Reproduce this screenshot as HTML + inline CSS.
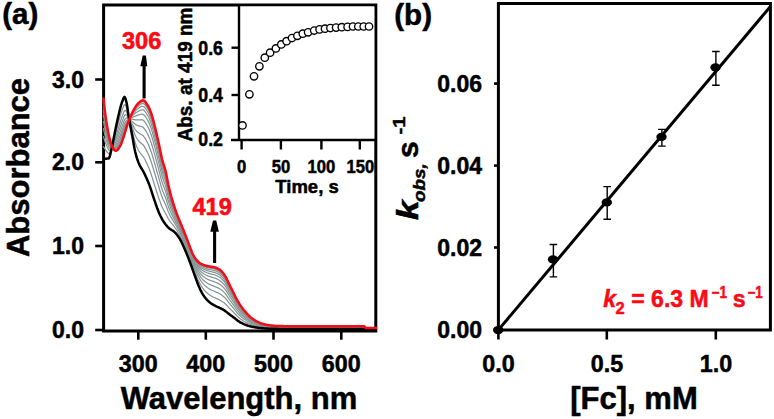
<!DOCTYPE html><html><head><meta charset="utf-8"><style>html,body{margin:0;padding:0;background:#fff}svg{display:block}text{font-family:"Liberation Sans",sans-serif;font-weight:bold;stroke-linejoin:round}</style></head><body>
<svg width="774" height="419" viewBox="0 0 774 419">
<rect width="774" height="419" fill="#fff"/>
<g stroke="#000" stroke-width="3" fill="none">
<path d="M103.6,332.5 V5.0 H375.8 V331.0 H102.1"/>
</g><g stroke="#000" stroke-width="2.6" fill="none">
<path d="M95.2,79.5 H103.6"/>
<path d="M95.2,162.3 H103.6"/>
<path d="M95.2,246 H103.6"/>
<path d="M95.2,330 H103.6"/>
<path d="M138.3,331.0 V339.7"/>
<path d="M205.8,331.0 V339.7"/>
<path d="M273.5,331.0 V339.7"/>
<path d="M341.3,331.0 V339.7"/>
</g>
<g fill="none" stroke-linejoin="round">
<path d="M103.4,146.2 L104.0,147.4 L104.6,148.4 L105.2,149.4 L105.8,150.4 L106.4,151.1 L107.0,151.9 L107.6,152.5 L108.2,153.1 L108.8,153.7 L109.4,153.5 L110.0,152.4 L110.6,150.8 L111.2,149.2 L111.8,147.5 L112.4,145.5 L113.0,143.3 L113.6,140.9 L114.2,138.6 L114.8,136.3 L115.4,134.1 L116.0,131.8 L116.6,129.5 L117.2,127.2 L117.8,124.9 L118.4,122.7 L119.0,120.5 L119.6,118.3 L120.2,116.2 L120.8,114.1 L121.4,112.1 L122.0,110.4 L122.6,108.7 L123.2,107.1 L123.8,105.7 L124.4,104.8 L125.0,104.6 L125.6,105.4 L126.2,106.8 L126.8,108.5 L127.4,111.1 L128.0,114.2 L128.6,117.1 L129.2,119.6 L129.8,121.9 L130.4,124.2 L131.0,126.4 L131.6,128.7 L132.2,130.9 L132.8,133.3 L133.4,135.8 L134.0,138.2 L134.6,140.5 L135.2,142.6 L135.8,144.3 L136.4,145.8 L137.0,147.2 L137.6,148.5 L138.2,149.7 L138.8,150.8 L139.4,151.7 L140.0,152.6 L140.6,153.4 L141.2,154.1 L141.8,154.8 L142.4,155.6 L143.0,156.3 L143.6,157.2 L144.2,158.3 L144.8,159.3 L145.4,160.5 L146.0,161.7 L146.6,162.9 L147.2,164.2 L147.8,165.5 L148.4,166.9 L149.0,168.3 L149.6,169.9 L150.2,171.5 L150.8,173.3 L151.4,175.1 L152.0,176.9 L152.6,178.8 L153.2,180.8 L153.8,182.7 L154.4,184.6 L155.0,186.5 L155.6,188.4 L156.2,190.3 L156.8,192.2 L157.4,194.1 L158.0,195.9 L158.6,197.6 L159.2,199.3 L159.8,200.9 L160.4,202.6 L161.0,204.2 L161.6,205.7 L162.2,207.1 L162.8,208.3 L163.4,209.5 L164.0,210.6 L164.6,211.6 L165.2,212.7 L165.8,213.8 L166.4,215.0 L167.0,216.2 L167.6,217.4 L168.2,218.5 L168.8,219.5 L169.4,220.5 L170.0,221.3 L170.6,222.1 L171.2,222.9 L171.8,223.6 L172.4,224.3 L173.0,225.0 L173.6,225.7 L174.2,226.5 L174.8,227.4 L175.4,228.2 L176.0,229.1 L176.6,230.0 L177.2,230.9 L177.8,231.9 L178.4,232.8 L179.0,233.8 L179.6,234.9 L180.2,236.0 L180.8,237.2 L181.4,238.4 L182.0,239.7 L182.6,241.0 L183.2,242.4 L183.8,243.8 L184.4,245.1 L185.0,246.5 L185.6,247.9 L186.2,249.4 L186.8,250.9 L187.4,252.4 L188.0,254.0 L188.6,255.5 L189.2,257.1 L189.8,258.6 L190.4,260.2 L191.0,261.9 L191.6,263.5 L192.2,265.2 L192.8,266.8 L193.4,268.4 L194.0,269.9 L194.6,271.4 L195.2,272.9 L195.8,274.4 L196.4,275.8 L197.0,277.3 L197.6,278.7 L198.2,280.0 L198.8,281.2 L199.4,282.4 L200.0,283.6 L200.6,284.7 L201.2,285.8 L201.8,286.7 L202.4,287.6 L203.0,288.5 L203.6,289.2 L204.2,290.0 L204.8,290.7 L205.4,291.3 L206.0,292.0 L206.6,292.5 L207.2,293.1 L207.8,293.6 L208.4,294.1 L209.0,294.5 L209.6,294.9 L210.2,295.3 L210.8,295.7 L211.4,296.0 L212.0,296.3 L212.6,296.7 L213.2,297.0 L213.8,297.3 L214.4,297.5 L215.0,297.8 L215.6,298.1 L216.2,298.4 L216.8,298.6 L217.4,298.9 L218.0,299.2 L218.6,299.5 L219.2,299.8 L219.8,300.1 L220.4,300.4 L221.0,300.8 L221.6,301.1 L222.2,301.5 L222.8,301.9 L223.4,302.3 L224.0,302.7 L224.6,303.2 L225.2,303.8 L225.8,304.3 L226.4,305.0 L227.0,305.6 L227.6,306.3 L228.2,306.9 L228.8,307.6 L229.4,308.2 L230.0,308.8 L230.6,309.4 L231.2,310.0 L231.8,310.6 L232.4,311.1 L233.0,311.7 L233.6,312.3 L234.2,313.0 L234.8,313.6 L235.4,314.2 L236.0,314.8 L236.6,315.5 L237.2,316.1 L237.8,316.6 L238.4,317.2 L239.0,317.7 L239.6,318.2 L240.2,318.7 L240.8,319.2 L241.4,319.6 L242.0,320.0 L242.6,320.4 L243.2,320.8 L243.8,321.2 L244.4,321.5 L245.0,321.9 L245.6,322.2 L246.2,322.5 L246.8,322.8 L247.4,323.1 L248.0,323.4 L248.6,323.7 L249.2,324.0 L249.8,324.2 L250.4,324.4 L251.0,324.7 L251.6,324.9 L252.2,325.1 L252.8,325.3 L253.4,325.4 L254.0,325.6 L254.6,325.8 L255.2,325.9 L255.8,326.1 L256.4,326.2 L257.0,326.4 L257.6,326.5 L258.2,326.6 L258.8,326.7 L259.4,326.9 L260.0,327.0 L260.6,327.1 L261.2,327.2 L261.8,327.2 L262.4,327.3 L263.0,327.4 L263.6,327.5 L264.2,327.6 L264.8,327.6 L265.4,327.7 L266.0,327.7 L266.6,327.8 L267.2,327.8 L267.8,327.9 L268.4,327.9 L269.0,328.0 L269.6,328.0 L270.2,328.0 L270.8,328.0 L271.4,328.1 L272.0,328.1 L272.6,328.1 L273.2,328.1 L273.8,328.1 L274.4,328.2 L275.0,328.2 L275.6,328.2 L276.2,328.2 L276.8,328.2 L277.4,328.2 L278.0,328.3 L278.6,328.3 L279.2,328.3 L279.8,328.3 L280.4,328.3 L281.0,328.3 L281.6,328.3 L282.2,328.3 L282.8,328.3 L283.4,328.3 L284.0,328.4 L284.6,328.4 L285.2,328.4 L285.8,328.4 L286.4,328.4 L287.0,328.4 L287.6,328.4 L288.2,328.4 L288.8,328.4 L289.4,328.4 L290.0,328.4 L290.6,328.4 L291.2,328.4 L291.8,328.4 L292.4,328.4 L293.0,328.4 L293.6,328.4 L294.2,328.4 L294.8,328.4 L295.4,328.4 L296.0,328.4 L296.6,328.4 L297.2,328.4 L297.8,328.4 L298.4,328.4 L299.0,328.4 L299.6,328.4 L300.2,328.4 L300.8,328.4 L301.4,328.4 L302.0,328.4 L302.6,328.4 L303.2,328.4 L303.8,328.4 L304.4,328.4 L305.0,328.4 L305.6,328.4 L306.2,328.4 L306.8,328.4 L307.4,328.4 L308.0,328.4 L308.6,328.4 L309.2,328.4 L309.8,328.4 L310.4,328.4 L311.0,328.4 L311.6,328.4 L312.2,328.4 L312.8,328.4 L313.4,328.4 L314.0,328.4 L314.6,328.4 L315.2,328.4 L315.8,328.4 L316.4,328.4 L317.0,328.4 L317.6,328.4 L318.2,328.4 L318.8,328.4 L319.4,328.4 L320.0,328.4 L320.6,328.4 L321.2,328.4 L321.8,328.4 L322.4,328.4 L323.0,328.4 L323.6,328.4 L324.2,328.4 L324.8,328.4 L325.4,328.4 L326.0,328.4 L326.6,328.4 L327.2,328.4 L327.8,328.4 L328.4,328.4 L329.0,328.4 L329.6,328.4 L330.2,328.4 L330.8,328.4 L331.4,328.4 L332.0,328.4 L332.6,328.4 L333.2,328.4 L333.8,328.4 L334.4,328.4 L335.0,328.4 L335.6,328.4 L336.2,328.4 L336.8,328.4 L337.4,328.4 L338.0,328.4 L338.6,328.4 L339.2,328.4 L339.8,328.4 L340.4,328.4 L341.0,328.4 L341.6,328.4 L342.2,328.4 L342.8,328.4 L343.4,328.4 L344.0,328.4 L344.6,328.4 L345.2,328.4 L345.8,328.4 L346.4,328.4 L347.0,328.4 L347.6,328.4 L348.2,328.4 L348.8,328.4 L349.4,328.4 L350.0,328.4 L350.6,328.4 L351.2,328.4 L351.8,328.4 L352.4,328.4 L353.0,328.4 L353.6,328.4 L354.2,328.4 L354.8,328.4 L355.4,328.4 L356.0,328.4 L356.6,328.4 L357.2,328.4 L357.8,328.4 L358.4,328.4 L359.0,328.4 L359.6,328.4 L360.2,328.4 L360.8,328.4 L361.4,328.4 L362.0,328.4 L362.6,328.4 L363.2,328.4 L363.8,328.4 L364.4,328.5 L365.0,328.6 L365.6,328.8 L366.2,328.8 L366.8,328.8 L367.4,328.8 L368.0,328.8 L368.6,328.8 L369.2,328.8 L369.8,328.8 L370.4,328.8 L371.0,328.8 L371.6,328.8 L372.2,328.8 L372.8,328.8 L373.4,328.8 L374.0,328.8 L374.6,328.8 L375.2,328.8 L375.8,328.8 L376.4,328.8 L377.0,328.8" stroke="#869494" stroke-width="1.25"/>
<path d="M103.4,136.2 L104.0,138.3 L104.6,140.2 L105.2,142.1 L105.8,143.7 L106.4,145.2 L107.0,146.5 L107.6,147.8 L108.2,148.9 L108.8,149.9 L109.4,150.3 L110.0,149.9 L110.6,149.0 L111.2,148.1 L111.8,147.2 L112.4,145.9 L113.0,144.3 L113.6,142.6 L114.2,140.9 L114.8,139.2 L115.4,137.5 L116.0,135.7 L116.6,133.9 L117.2,131.9 L117.8,130.0 L118.4,128.1 L119.0,126.2 L119.6,124.2 L120.2,122.3 L120.8,120.4 L121.4,118.6 L122.0,116.8 L122.6,115.2 L123.2,113.5 L123.8,112.0 L124.4,110.9 L125.0,110.3 L125.6,110.6 L126.2,111.3 L126.8,112.2 L127.4,113.9 L128.0,116.0 L128.6,118.0 L129.2,119.6 L129.8,121.2 L130.4,122.7 L131.0,124.2 L131.6,125.6 L132.2,127.2 L132.8,128.8 L133.4,130.6 L134.0,132.3 L134.6,133.9 L135.2,135.3 L135.8,136.5 L136.4,137.5 L137.0,138.5 L137.6,139.4 L138.2,140.2 L138.8,140.9 L139.4,141.6 L140.0,142.2 L140.6,142.7 L141.2,143.2 L141.8,143.7 L142.4,144.2 L143.0,144.8 L143.6,145.5 L144.2,146.4 L144.8,147.4 L145.4,148.4 L146.0,149.5 L146.6,150.7 L147.2,151.9 L147.8,153.1 L148.4,154.4 L149.0,155.8 L149.6,157.3 L150.2,159.0 L150.8,160.7 L151.4,162.5 L152.0,164.3 L152.6,166.3 L153.2,168.3 L153.8,170.3 L154.4,172.2 L155.0,174.2 L155.6,176.3 L156.2,178.3 L156.8,180.4 L157.4,182.4 L158.0,184.4 L158.6,186.3 L159.2,188.2 L159.8,190.2 L160.4,192.1 L161.0,193.9 L161.6,195.7 L162.2,197.3 L162.8,198.8 L163.4,200.1 L164.0,201.3 L164.6,202.6 L165.2,203.8 L165.8,205.2 L166.4,206.7 L167.0,208.3 L167.6,210.0 L168.2,211.5 L168.8,212.8 L169.4,214.1 L170.0,215.3 L170.6,216.4 L171.2,217.4 L171.8,218.4 L172.4,219.4 L173.0,220.4 L173.6,221.4 L174.2,222.4 L174.8,223.4 L175.4,224.4 L176.0,225.5 L176.6,226.5 L177.2,227.6 L177.8,228.7 L178.4,229.8 L179.0,230.9 L179.6,232.0 L180.2,233.1 L180.8,234.4 L181.4,235.7 L182.0,237.0 L182.6,238.4 L183.2,239.8 L183.8,241.1 L184.4,242.5 L185.0,243.9 L185.6,245.4 L186.2,246.9 L186.8,248.4 L187.4,249.9 L188.0,251.5 L188.6,253.0 L189.2,254.6 L189.8,256.2 L190.4,257.8 L191.0,259.4 L191.6,261.0 L192.2,262.6 L192.8,264.2 L193.4,265.7 L194.0,267.1 L194.6,268.5 L195.2,269.9 L195.8,271.2 L196.4,272.5 L197.0,273.8 L197.6,275.0 L198.2,276.2 L198.8,277.3 L199.4,278.4 L200.0,279.4 L200.6,280.3 L201.2,281.3 L201.8,282.1 L202.4,282.9 L203.0,283.6 L203.6,284.2 L204.2,284.9 L204.8,285.5 L205.4,286.0 L206.0,286.5 L206.6,287.0 L207.2,287.5 L207.8,287.9 L208.4,288.3 L209.0,288.7 L209.6,289.0 L210.2,289.4 L210.8,289.7 L211.4,290.0 L212.0,290.3 L212.6,290.5 L213.2,290.8 L213.8,291.0 L214.4,291.3 L215.0,291.6 L215.6,291.8 L216.2,292.1 L216.8,292.3 L217.4,292.6 L218.0,292.9 L218.6,293.2 L219.2,293.5 L219.8,293.9 L220.4,294.2 L221.0,294.6 L221.6,295.0 L222.2,295.4 L222.8,295.9 L223.4,296.4 L224.0,296.9 L224.6,297.5 L225.2,298.1 L225.8,298.7 L226.4,299.5 L227.0,300.2 L227.6,301.0 L228.2,301.8 L228.8,302.6 L229.4,303.3 L230.0,304.0 L230.6,304.8 L231.2,305.5 L231.8,306.2 L232.4,306.9 L233.0,307.6 L233.6,308.3 L234.2,309.1 L234.8,309.8 L235.4,310.6 L236.0,311.3 L236.6,312.1 L237.2,312.8 L237.8,313.5 L238.4,314.1 L239.0,314.7 L239.6,315.3 L240.2,315.9 L240.8,316.4 L241.4,317.0 L242.0,317.5 L242.6,318.0 L243.2,318.4 L243.8,318.9 L244.4,319.3 L245.0,319.7 L245.6,320.1 L246.2,320.5 L246.8,320.9 L247.4,321.3 L248.0,321.6 L248.6,322.0 L249.2,322.3 L249.8,322.6 L250.4,322.9 L251.0,323.2 L251.6,323.5 L252.2,323.7 L252.8,324.0 L253.4,324.2 L254.0,324.4 L254.6,324.6 L255.2,324.8 L255.8,325.0 L256.4,325.2 L257.0,325.4 L257.6,325.5 L258.2,325.7 L258.8,325.9 L259.4,326.0 L260.0,326.1 L260.6,326.3 L261.2,326.4 L261.8,326.5 L262.4,326.6 L263.0,326.7 L263.6,326.8 L264.2,326.9 L264.8,327.0 L265.4,327.0 L266.0,327.1 L266.6,327.2 L267.2,327.2 L267.8,327.3 L268.4,327.4 L269.0,327.4 L269.6,327.4 L270.2,327.5 L270.8,327.5 L271.4,327.5 L272.0,327.6 L272.6,327.6 L273.2,327.6 L273.8,327.6 L274.4,327.7 L275.0,327.7 L275.6,327.7 L276.2,327.7 L276.8,327.8 L277.4,327.8 L278.0,327.8 L278.6,327.8 L279.2,327.8 L279.8,327.8 L280.4,327.9 L281.0,327.9 L281.6,327.9 L282.2,327.9 L282.8,327.9 L283.4,327.9 L284.0,327.9 L284.6,327.9 L285.2,327.9 L285.8,327.9 L286.4,327.9 L287.0,327.9 L287.6,327.9 L288.2,327.9 L288.8,328.0 L289.4,328.0 L290.0,328.0 L290.6,328.0 L291.2,328.0 L291.8,328.0 L292.4,328.0 L293.0,328.0 L293.6,328.0 L294.2,328.0 L294.8,328.0 L295.4,328.0 L296.0,328.0 L296.6,328.0 L297.2,328.0 L297.8,328.0 L298.4,328.0 L299.0,328.0 L299.6,328.0 L300.2,328.0 L300.8,328.0 L301.4,328.0 L302.0,328.0 L302.6,328.0 L303.2,328.0 L303.8,328.0 L304.4,328.0 L305.0,328.0 L305.6,328.0 L306.2,328.0 L306.8,328.0 L307.4,328.0 L308.0,328.0 L308.6,328.0 L309.2,328.0 L309.8,328.0 L310.4,328.0 L311.0,328.0 L311.6,328.0 L312.2,328.0 L312.8,328.0 L313.4,328.0 L314.0,328.0 L314.6,328.0 L315.2,328.0 L315.8,328.0 L316.4,328.0 L317.0,328.0 L317.6,328.0 L318.2,328.0 L318.8,328.0 L319.4,328.0 L320.0,328.0 L320.6,328.0 L321.2,328.0 L321.8,328.0 L322.4,328.0 L323.0,328.0 L323.6,328.0 L324.2,328.0 L324.8,328.0 L325.4,328.0 L326.0,328.0 L326.6,328.0 L327.2,328.0 L327.8,328.0 L328.4,328.0 L329.0,328.0 L329.6,328.0 L330.2,328.0 L330.8,328.0 L331.4,328.0 L332.0,328.0 L332.6,328.0 L333.2,328.0 L333.8,328.0 L334.4,328.0 L335.0,328.0 L335.6,328.0 L336.2,328.0 L336.8,328.0 L337.4,328.0 L338.0,328.0 L338.6,328.0 L339.2,328.0 L339.8,328.0 L340.4,328.0 L341.0,328.0 L341.6,328.0 L342.2,328.0 L342.8,328.0 L343.4,328.0 L344.0,328.0 L344.6,328.0 L345.2,328.0 L345.8,328.0 L346.4,328.0 L347.0,328.0 L347.6,328.0 L348.2,328.0 L348.8,328.0 L349.4,328.0 L350.0,328.0 L350.6,328.0 L351.2,328.0 L351.8,328.0 L352.4,328.0 L353.0,328.0 L353.6,328.0 L354.2,328.0 L354.8,328.0 L355.4,328.0 L356.0,328.0 L356.6,328.0 L357.2,328.0 L357.8,328.0 L358.4,328.0 L359.0,328.0 L359.6,328.0 L360.2,328.0 L360.8,328.0 L361.4,328.0 L362.0,328.0 L362.6,328.0 L363.2,328.0 L363.8,328.0 L364.4,328.1 L365.0,328.3 L365.6,328.6 L366.2,328.6 L366.8,328.6 L367.4,328.6 L368.0,328.6 L368.6,328.6 L369.2,328.6 L369.8,328.6 L370.4,328.6 L371.0,328.6 L371.6,328.6 L372.2,328.6 L372.8,328.6 L373.4,328.6 L374.0,328.6 L374.6,328.6 L375.2,328.6 L375.8,328.6 L376.4,328.6 L377.0,328.6" stroke="#869494" stroke-width="1.25"/>
<path d="M103.4,128.2 L104.0,131.1 L104.6,133.7 L105.2,136.2 L105.8,138.4 L106.4,140.4 L107.0,142.2 L107.6,144.0 L108.2,145.5 L108.8,146.9 L109.4,147.8 L110.0,147.9 L110.6,147.6 L111.2,147.3 L111.8,146.9 L112.4,146.1 L113.0,145.1 L113.6,143.9 L114.2,142.7 L114.8,141.5 L115.4,140.3 L116.0,138.8 L116.6,137.3 L117.2,135.7 L117.8,134.0 L118.4,132.3 L119.0,130.6 L119.6,128.9 L120.2,127.2 L120.8,125.4 L121.4,123.7 L122.0,121.9 L122.6,120.3 L123.2,118.6 L123.8,117.0 L124.4,115.7 L125.0,114.9 L125.6,114.7 L126.2,114.8 L126.8,115.1 L127.4,116.1 L128.0,117.5 L128.6,118.7 L129.2,119.6 L129.8,120.6 L130.4,121.5 L131.0,122.3 L131.6,123.3 L132.2,124.2 L132.8,125.3 L133.4,126.4 L134.0,127.5 L134.6,128.6 L135.2,129.5 L135.8,130.3 L136.4,130.9 L137.0,131.5 L137.6,132.1 L138.2,132.6 L138.8,133.1 L139.4,133.5 L140.0,133.8 L140.6,134.2 L141.2,134.5 L141.8,134.8 L142.4,135.2 L143.0,135.6 L143.6,136.2 L144.2,137.0 L144.8,137.9 L145.4,138.9 L146.0,139.9 L146.6,141.0 L147.2,142.1 L147.8,143.3 L148.4,144.5 L149.0,145.9 L149.6,147.4 L150.2,149.0 L150.8,150.7 L151.4,152.4 L152.0,154.3 L152.6,156.3 L153.2,158.3 L153.8,160.4 L154.4,162.5 L155.0,164.5 L155.6,166.7 L156.2,168.8 L156.8,171.0 L157.4,173.1 L158.0,175.2 L158.6,177.3 L159.2,179.4 L159.8,181.6 L160.4,183.7 L161.0,185.8 L161.6,187.8 L162.2,189.6 L162.8,191.2 L163.4,192.6 L164.0,194.0 L164.6,195.4 L165.2,196.8 L165.8,198.3 L166.4,200.1 L167.0,202.1 L167.6,204.1 L168.2,205.9 L168.8,207.5 L169.4,209.0 L170.0,210.5 L170.6,211.8 L171.2,213.1 L171.8,214.4 L172.4,215.6 L173.0,216.7 L173.6,217.9 L174.2,219.1 L174.8,220.3 L175.4,221.4 L176.0,222.6 L176.6,223.8 L177.2,225.0 L177.8,226.2 L178.4,227.3 L179.0,228.5 L179.6,229.7 L180.2,230.9 L180.8,232.2 L181.4,233.5 L182.0,234.9 L182.6,236.3 L183.2,237.7 L183.8,239.1 L184.4,240.5 L185.0,241.9 L185.6,243.3 L186.2,244.8 L186.8,246.4 L187.4,247.9 L188.0,249.5 L188.6,251.1 L189.2,252.7 L189.8,254.2 L190.4,255.8 L191.0,257.4 L191.6,259.0 L192.2,260.6 L192.8,262.1 L193.4,263.6 L194.0,264.9 L194.6,266.2 L195.2,267.5 L195.8,268.7 L196.4,269.9 L197.0,271.1 L197.6,272.2 L198.2,273.2 L198.8,274.2 L199.4,275.1 L200.0,276.0 L200.6,276.9 L201.2,277.7 L201.8,278.4 L202.4,279.1 L203.0,279.7 L203.6,280.3 L204.2,280.8 L204.8,281.3 L205.4,281.8 L206.0,282.3 L206.6,282.7 L207.2,283.1 L207.8,283.4 L208.4,283.8 L209.0,284.1 L209.6,284.4 L210.2,284.7 L210.8,284.9 L211.4,285.2 L212.0,285.4 L212.6,285.7 L213.2,285.9 L213.8,286.1 L214.4,286.3 L215.0,286.6 L215.6,286.8 L216.2,287.1 L216.8,287.3 L217.4,287.6 L218.0,287.9 L218.6,288.2 L219.2,288.6 L219.8,288.9 L220.4,289.3 L221.0,289.7 L221.6,290.1 L222.2,290.6 L222.8,291.1 L223.4,291.7 L224.0,292.2 L224.6,292.9 L225.2,293.5 L225.8,294.3 L226.4,295.1 L227.0,296.0 L227.6,296.9 L228.2,297.8 L228.8,298.6 L229.4,299.5 L230.0,300.3 L230.6,301.1 L231.2,301.9 L231.8,302.7 L232.4,303.5 L233.0,304.3 L233.6,305.2 L234.2,306.0 L234.8,306.9 L235.4,307.7 L236.0,308.6 L236.6,309.4 L237.2,310.2 L237.8,310.9 L238.4,311.7 L239.0,312.4 L239.6,313.0 L240.2,313.7 L240.8,314.3 L241.4,314.9 L242.0,315.4 L242.6,316.0 L243.2,316.5 L243.8,317.0 L244.4,317.5 L245.0,318.0 L245.6,318.5 L246.2,318.9 L246.8,319.4 L247.4,319.8 L248.0,320.2 L248.6,320.6 L249.2,321.0 L249.8,321.4 L250.4,321.7 L251.0,322.0 L251.6,322.4 L252.2,322.6 L252.8,322.9 L253.4,323.2 L254.0,323.4 L254.6,323.7 L255.2,323.9 L255.8,324.2 L256.4,324.4 L257.0,324.6 L257.6,324.8 L258.2,325.0 L258.8,325.2 L259.4,325.3 L260.0,325.5 L260.6,325.7 L261.2,325.8 L261.8,325.9 L262.4,326.0 L263.0,326.1 L263.6,326.3 L264.2,326.4 L264.8,326.4 L265.4,326.5 L266.0,326.6 L266.6,326.7 L267.2,326.8 L267.8,326.8 L268.4,326.9 L269.0,326.9 L269.6,327.0 L270.2,327.0 L270.8,327.1 L271.4,327.1 L272.0,327.1 L272.6,327.2 L273.2,327.2 L273.8,327.3 L274.4,327.3 L275.0,327.3 L275.6,327.3 L276.2,327.4 L276.8,327.4 L277.4,327.4 L278.0,327.4 L278.6,327.5 L279.2,327.5 L279.8,327.5 L280.4,327.5 L281.0,327.5 L281.6,327.5 L282.2,327.5 L282.8,327.5 L283.4,327.5 L284.0,327.5 L284.6,327.6 L285.2,327.6 L285.8,327.6 L286.4,327.6 L287.0,327.6 L287.6,327.6 L288.2,327.6 L288.8,327.6 L289.4,327.6 L290.0,327.6 L290.6,327.6 L291.2,327.6 L291.8,327.6 L292.4,327.6 L293.0,327.6 L293.6,327.6 L294.2,327.6 L294.8,327.6 L295.4,327.6 L296.0,327.6 L296.6,327.6 L297.2,327.6 L297.8,327.6 L298.4,327.7 L299.0,327.7 L299.6,327.7 L300.2,327.7 L300.8,327.7 L301.4,327.7 L302.0,327.7 L302.6,327.7 L303.2,327.7 L303.8,327.7 L304.4,327.7 L305.0,327.7 L305.6,327.7 L306.2,327.7 L306.8,327.7 L307.4,327.7 L308.0,327.7 L308.6,327.7 L309.2,327.7 L309.8,327.7 L310.4,327.7 L311.0,327.7 L311.6,327.7 L312.2,327.7 L312.8,327.7 L313.4,327.7 L314.0,327.7 L314.6,327.7 L315.2,327.7 L315.8,327.7 L316.4,327.7 L317.0,327.7 L317.6,327.7 L318.2,327.7 L318.8,327.7 L319.4,327.7 L320.0,327.7 L320.6,327.7 L321.2,327.7 L321.8,327.7 L322.4,327.7 L323.0,327.7 L323.6,327.7 L324.2,327.7 L324.8,327.7 L325.4,327.7 L326.0,327.7 L326.6,327.7 L327.2,327.7 L327.8,327.7 L328.4,327.7 L329.0,327.7 L329.6,327.7 L330.2,327.7 L330.8,327.7 L331.4,327.7 L332.0,327.7 L332.6,327.7 L333.2,327.7 L333.8,327.7 L334.4,327.7 L335.0,327.7 L335.6,327.7 L336.2,327.7 L336.8,327.7 L337.4,327.7 L338.0,327.7 L338.6,327.7 L339.2,327.7 L339.8,327.7 L340.4,327.7 L341.0,327.7 L341.6,327.7 L342.2,327.7 L342.8,327.7 L343.4,327.7 L344.0,327.7 L344.6,327.7 L345.2,327.7 L345.8,327.7 L346.4,327.7 L347.0,327.7 L347.6,327.7 L348.2,327.7 L348.8,327.7 L349.4,327.7 L350.0,327.7 L350.6,327.7 L351.2,327.7 L351.8,327.7 L352.4,327.7 L353.0,327.7 L353.6,327.7 L354.2,327.7 L354.8,327.7 L355.4,327.7 L356.0,327.7 L356.6,327.7 L357.2,327.7 L357.8,327.7 L358.4,327.7 L359.0,327.7 L359.6,327.7 L360.2,327.7 L360.8,327.7 L361.4,327.7 L362.0,327.7 L362.6,327.7 L363.2,327.7 L363.8,327.7 L364.4,327.7 L365.0,328.1 L365.6,328.4 L366.2,328.5 L366.8,328.5 L367.4,328.5 L368.0,328.5 L368.6,328.5 L369.2,328.5 L369.8,328.5 L370.4,328.5 L371.0,328.5 L371.6,328.5 L372.2,328.5 L372.8,328.5 L373.4,328.5 L374.0,328.5 L374.6,328.5 L375.2,328.5 L375.8,328.5 L376.4,328.5 L377.0,328.5" stroke="#869494" stroke-width="1.25"/>
<path d="M103.4,121.0 L104.0,124.5 L104.6,127.8 L105.2,130.8 L105.8,133.6 L106.4,136.1 L107.0,138.4 L107.6,140.5 L108.2,142.5 L108.8,144.2 L109.4,145.4 L110.0,146.0 L110.6,146.4 L111.2,146.6 L111.8,146.6 L112.4,146.4 L113.0,145.8 L113.6,145.1 L114.2,144.4 L114.8,143.6 L115.4,142.7 L116.0,141.7 L116.6,140.4 L117.2,139.1 L117.8,137.7 L118.4,136.2 L119.0,134.7 L119.6,133.1 L120.2,131.6 L120.8,130.0 L121.4,128.3 L122.0,126.6 L122.6,124.9 L123.2,123.2 L123.8,121.6 L124.4,120.2 L125.0,119.1 L125.6,118.4 L126.2,118.0 L126.8,117.8 L127.4,118.1 L128.0,118.8 L128.6,119.3 L129.2,119.7 L129.8,120.0 L130.4,120.3 L131.0,120.7 L131.6,121.1 L132.2,121.5 L132.8,122.1 L133.4,122.7 L134.0,123.3 L134.6,123.8 L135.2,124.3 L135.8,124.6 L136.4,124.9 L137.0,125.2 L137.6,125.5 L138.2,125.7 L138.8,125.9 L139.4,126.1 L140.0,126.3 L140.6,126.4 L141.2,126.5 L141.8,126.7 L142.4,126.9 L143.0,127.3 L143.6,127.8 L144.2,128.5 L144.8,129.3 L145.4,130.2 L146.0,131.1 L146.6,132.2 L147.2,133.3 L147.8,134.4 L148.4,135.6 L149.0,136.9 L149.6,138.3 L150.2,139.9 L150.8,141.6 L151.4,143.3 L152.0,145.2 L152.6,147.2 L153.2,149.3 L153.8,151.4 L154.4,153.6 L155.0,155.7 L155.6,157.9 L156.2,160.1 L156.8,162.4 L157.4,164.7 L158.0,166.9 L158.6,169.2 L159.2,171.4 L159.8,173.8 L160.4,176.2 L161.0,178.5 L161.6,180.6 L162.2,182.5 L162.8,184.3 L163.4,185.8 L164.0,187.3 L164.6,188.8 L165.2,190.4 L165.8,192.1 L166.4,194.2 L167.0,196.4 L167.6,198.7 L168.2,200.8 L168.8,202.6 L169.4,204.4 L170.0,206.1 L170.6,207.7 L171.2,209.2 L171.8,210.6 L172.4,212.0 L173.0,213.4 L173.6,214.8 L174.2,216.1 L174.8,217.4 L175.4,218.7 L176.0,220.0 L176.6,221.3 L177.2,222.6 L177.8,223.9 L178.4,225.1 L179.0,226.3 L179.6,227.6 L180.2,228.9 L180.8,230.2 L181.4,231.5 L182.0,232.9 L182.6,234.3 L183.2,235.7 L183.8,237.2 L184.4,238.6 L185.0,240.0 L185.6,241.5 L186.2,243.0 L186.8,244.5 L187.4,246.1 L188.0,247.7 L188.6,249.3 L189.2,250.9 L189.8,252.4 L190.4,254.0 L191.0,255.6 L191.6,257.2 L192.2,258.8 L192.8,260.3 L193.4,261.6 L194.0,262.9 L194.6,264.1 L195.2,265.3 L195.8,266.5 L196.4,267.5 L197.0,268.6 L197.6,269.6 L198.2,270.5 L198.8,271.4 L199.4,272.2 L200.0,273.0 L200.6,273.8 L201.2,274.4 L201.8,275.1 L202.4,275.6 L203.0,276.2 L203.6,276.7 L204.2,277.1 L204.8,277.6 L205.4,278.0 L206.0,278.4 L206.6,278.7 L207.2,279.1 L207.8,279.4 L208.4,279.7 L209.0,279.9 L209.6,280.2 L210.2,280.4 L210.8,280.6 L211.4,280.8 L212.0,281.0 L212.6,281.2 L213.2,281.4 L213.8,281.6 L214.4,281.8 L215.0,282.1 L215.6,282.3 L216.2,282.5 L216.8,282.8 L217.4,283.1 L218.0,283.4 L218.6,283.7 L219.2,284.1 L219.8,284.4 L220.4,284.8 L221.0,285.2 L221.6,285.7 L222.2,286.2 L222.8,286.8 L223.4,287.4 L224.0,288.0 L224.6,288.7 L225.2,289.4 L225.8,290.2 L226.4,291.1 L227.0,292.1 L227.6,293.1 L228.2,294.1 L228.8,295.0 L229.4,296.0 L230.0,296.9 L230.6,297.8 L231.2,298.6 L231.8,299.5 L232.4,300.4 L233.0,301.3 L233.6,302.3 L234.2,303.2 L234.8,304.2 L235.4,305.1 L236.0,306.0 L236.6,306.9 L237.2,307.8 L237.8,308.6 L238.4,309.4 L239.0,310.2 L239.6,310.9 L240.2,311.6 L240.8,312.3 L241.4,313.0 L242.0,313.6 L242.6,314.2 L243.2,314.8 L243.8,315.4 L244.4,315.9 L245.0,316.5 L245.6,317.0 L246.2,317.5 L246.8,318.0 L247.4,318.5 L248.0,318.9 L248.6,319.4 L249.2,319.8 L249.8,320.2 L250.4,320.6 L251.0,321.0 L251.6,321.3 L252.2,321.7 L252.8,322.0 L253.4,322.3 L254.0,322.6 L254.6,322.9 L255.2,323.1 L255.8,323.4 L256.4,323.6 L257.0,323.9 L257.6,324.1 L258.2,324.3 L258.8,324.5 L259.4,324.7 L260.0,324.9 L260.6,325.1 L261.2,325.2 L261.8,325.4 L262.4,325.5 L263.0,325.6 L263.6,325.8 L264.2,325.9 L264.8,326.0 L265.4,326.1 L266.0,326.2 L266.6,326.3 L267.2,326.3 L267.8,326.4 L268.4,326.5 L269.0,326.5 L269.6,326.6 L270.2,326.6 L270.8,326.7 L271.4,326.7 L272.0,326.8 L272.6,326.8 L273.2,326.9 L273.8,326.9 L274.4,326.9 L275.0,327.0 L275.6,327.0 L276.2,327.0 L276.8,327.1 L277.4,327.1 L278.0,327.1 L278.6,327.1 L279.2,327.1 L279.8,327.2 L280.4,327.2 L281.0,327.2 L281.6,327.2 L282.2,327.2 L282.8,327.2 L283.4,327.2 L284.0,327.2 L284.6,327.2 L285.2,327.2 L285.8,327.2 L286.4,327.2 L287.0,327.3 L287.6,327.3 L288.2,327.3 L288.8,327.3 L289.4,327.3 L290.0,327.3 L290.6,327.3 L291.2,327.3 L291.8,327.3 L292.4,327.3 L293.0,327.3 L293.6,327.3 L294.2,327.3 L294.8,327.3 L295.4,327.3 L296.0,327.3 L296.6,327.3 L297.2,327.3 L297.8,327.3 L298.4,327.3 L299.0,327.3 L299.6,327.3 L300.2,327.3 L300.8,327.3 L301.4,327.3 L302.0,327.3 L302.6,327.3 L303.2,327.3 L303.8,327.3 L304.4,327.3 L305.0,327.3 L305.6,327.3 L306.2,327.3 L306.8,327.3 L307.4,327.3 L308.0,327.3 L308.6,327.3 L309.2,327.3 L309.8,327.3 L310.4,327.3 L311.0,327.3 L311.6,327.3 L312.2,327.3 L312.8,327.3 L313.4,327.3 L314.0,327.3 L314.6,327.3 L315.2,327.3 L315.8,327.3 L316.4,327.3 L317.0,327.3 L317.6,327.3 L318.2,327.3 L318.8,327.3 L319.4,327.3 L320.0,327.3 L320.6,327.3 L321.2,327.3 L321.8,327.3 L322.4,327.3 L323.0,327.3 L323.6,327.3 L324.2,327.3 L324.8,327.3 L325.4,327.3 L326.0,327.3 L326.6,327.3 L327.2,327.3 L327.8,327.3 L328.4,327.3 L329.0,327.3 L329.6,327.3 L330.2,327.3 L330.8,327.3 L331.4,327.3 L332.0,327.3 L332.6,327.3 L333.2,327.3 L333.8,327.3 L334.4,327.3 L335.0,327.3 L335.6,327.3 L336.2,327.3 L336.8,327.3 L337.4,327.3 L338.0,327.3 L338.6,327.3 L339.2,327.3 L339.8,327.3 L340.4,327.3 L341.0,327.3 L341.6,327.3 L342.2,327.3 L342.8,327.3 L343.4,327.3 L344.0,327.3 L344.6,327.3 L345.2,327.3 L345.8,327.3 L346.4,327.3 L347.0,327.3 L347.6,327.3 L348.2,327.3 L348.8,327.3 L349.4,327.3 L350.0,327.3 L350.6,327.3 L351.2,327.3 L351.8,327.3 L352.4,327.3 L353.0,327.3 L353.6,327.3 L354.2,327.3 L354.8,327.3 L355.4,327.3 L356.0,327.3 L356.6,327.3 L357.2,327.3 L357.8,327.3 L358.4,327.3 L359.0,327.3 L359.6,327.3 L360.2,327.3 L360.8,327.3 L361.4,327.3 L362.0,327.3 L362.6,327.3 L363.2,327.3 L363.8,327.3 L364.4,327.4 L365.0,327.9 L365.6,328.3 L366.2,328.4 L366.8,328.4 L367.4,328.4 L368.0,328.4 L368.6,328.4 L369.2,328.4 L369.8,328.4 L370.4,328.4 L371.0,328.4 L371.6,328.4 L372.2,328.4 L372.8,328.4 L373.4,328.4 L374.0,328.4 L374.6,328.4 L375.2,328.4 L375.8,328.4 L376.4,328.4 L377.0,328.4" stroke="#869494" stroke-width="1.25"/>
<path d="M103.4,114.8 L104.0,118.9 L104.6,122.7 L105.2,126.3 L105.8,129.5 L106.4,132.4 L107.0,135.0 L107.6,137.5 L108.2,139.8 L108.8,141.9 L109.4,143.5 L110.0,144.5 L110.6,145.3 L111.2,145.9 L111.8,146.4 L112.4,146.6 L113.0,146.5 L113.6,146.2 L114.2,145.8 L114.8,145.4 L115.4,144.8 L116.0,144.1 L116.6,143.1 L117.2,142.0 L117.8,140.8 L118.4,139.5 L119.0,138.2 L119.6,136.8 L120.2,135.4 L120.8,133.9 L121.4,132.3 L122.0,130.6 L122.6,128.9 L123.2,127.1 L123.8,125.5 L124.4,123.9 L125.0,122.6 L125.6,121.6 L126.2,120.8 L126.8,120.1 L127.4,119.9 L128.0,119.9 L128.6,119.9 L129.2,119.7 L129.8,119.5 L130.4,119.4 L131.0,119.3 L131.6,119.2 L132.2,119.2 L132.8,119.3 L133.4,119.4 L134.0,119.6 L134.6,119.7 L135.2,119.8 L135.8,119.8 L136.4,119.8 L137.0,119.8 L137.6,119.8 L138.2,119.9 L138.8,119.8 L139.4,119.8 L140.0,119.8 L140.6,119.8 L141.2,119.7 L141.8,119.8 L142.4,119.9 L143.0,120.1 L143.6,120.5 L144.2,121.1 L144.8,121.9 L145.4,122.7 L146.0,123.6 L146.6,124.6 L147.2,125.7 L147.8,126.7 L148.4,127.9 L149.0,129.2 L149.6,130.6 L150.2,132.2 L150.8,133.8 L151.4,135.5 L152.0,137.4 L152.6,139.4 L153.2,141.6 L153.8,143.7 L154.4,146.0 L155.0,148.2 L155.6,150.4 L156.2,152.7 L156.8,155.1 L157.4,157.4 L158.0,159.8 L158.6,162.2 L159.2,164.6 L159.8,167.1 L160.4,169.7 L161.0,172.1 L161.6,174.4 L162.2,176.5 L162.8,178.3 L163.4,180.0 L164.0,181.6 L164.6,183.2 L165.2,184.9 L165.8,186.8 L166.4,189.0 L167.0,191.6 L167.6,194.1 L168.2,196.4 L168.8,198.5 L169.4,200.5 L170.0,202.3 L170.6,204.1 L171.2,205.8 L171.8,207.4 L172.4,209.0 L173.0,210.5 L173.6,212.0 L174.2,213.5 L174.8,215.0 L175.4,216.4 L176.0,217.8 L176.6,219.2 L177.2,220.6 L177.8,221.9 L178.4,223.2 L179.0,224.5 L179.6,225.8 L180.2,227.1 L180.8,228.5 L181.4,229.8 L182.0,231.3 L182.6,232.7 L183.2,234.1 L183.8,235.5 L184.4,237.0 L185.0,238.4 L185.6,239.9 L186.2,241.4 L186.8,243.0 L187.4,244.6 L188.0,246.2 L188.6,247.8 L189.2,249.3 L189.8,250.9 L190.4,252.5 L191.0,254.1 L191.6,255.7 L192.2,257.2 L192.8,258.7 L193.4,260.0 L194.0,261.2 L194.6,262.4 L195.2,263.5 L195.8,264.5 L196.4,265.5 L197.0,266.4 L197.6,267.3 L198.2,268.2 L198.8,269.0 L199.4,269.7 L200.0,270.4 L200.6,271.1 L201.2,271.7 L201.8,272.2 L202.4,272.7 L203.0,273.1 L203.6,273.6 L204.2,274.0 L204.8,274.3 L205.4,274.7 L206.0,275.0 L206.6,275.3 L207.2,275.6 L207.8,275.9 L208.4,276.1 L209.0,276.3 L209.6,276.5 L210.2,276.7 L210.8,276.9 L211.4,277.1 L212.0,277.3 L212.6,277.4 L213.2,277.6 L213.8,277.8 L214.4,278.0 L215.0,278.2 L215.6,278.4 L216.2,278.6 L216.8,278.9 L217.4,279.2 L218.0,279.5 L218.6,279.8 L219.2,280.2 L219.8,280.6 L220.4,280.9 L221.0,281.4 L221.6,281.9 L222.2,282.5 L222.8,283.1 L223.4,283.7 L224.0,284.4 L224.6,285.1 L225.2,285.9 L225.8,286.7 L226.4,287.7 L227.0,288.7 L227.6,289.8 L228.2,290.9 L228.8,292.0 L229.4,292.9 L230.0,293.9 L230.6,294.9 L231.2,295.9 L231.8,296.8 L232.4,297.8 L233.0,298.8 L233.6,299.8 L234.2,300.8 L234.8,301.9 L235.4,302.9 L236.0,303.9 L236.6,304.9 L237.2,305.8 L237.8,306.7 L238.4,307.5 L239.0,308.3 L239.6,309.1 L240.2,309.9 L240.8,310.6 L241.4,311.3 L242.0,312.0 L242.6,312.7 L243.2,313.3 L243.8,314.0 L244.4,314.6 L245.0,315.1 L245.6,315.7 L246.2,316.2 L246.8,316.8 L247.4,317.3 L248.0,317.8 L248.6,318.3 L249.2,318.8 L249.8,319.2 L250.4,319.7 L251.0,320.1 L251.6,320.5 L252.2,320.8 L252.8,321.2 L253.4,321.5 L254.0,321.8 L254.6,322.1 L255.2,322.4 L255.8,322.7 L256.4,323.0 L257.0,323.2 L257.6,323.5 L258.2,323.7 L258.8,324.0 L259.4,324.2 L260.0,324.4 L260.6,324.6 L261.2,324.8 L261.8,324.9 L262.4,325.1 L263.0,325.2 L263.6,325.3 L264.2,325.5 L264.8,325.6 L265.4,325.7 L266.0,325.8 L266.6,325.9 L267.2,326.0 L267.8,326.0 L268.4,326.1 L269.0,326.2 L269.6,326.2 L270.2,326.3 L270.8,326.3 L271.4,326.4 L272.0,326.4 L272.6,326.5 L273.2,326.5 L273.8,326.6 L274.4,326.6 L275.0,326.7 L275.6,326.7 L276.2,326.7 L276.8,326.8 L277.4,326.8 L278.0,326.8 L278.6,326.8 L279.2,326.9 L279.8,326.9 L280.4,326.9 L281.0,326.9 L281.6,326.9 L282.2,326.9 L282.8,326.9 L283.4,326.9 L284.0,326.9 L284.6,326.9 L285.2,327.0 L285.8,327.0 L286.4,327.0 L287.0,327.0 L287.6,327.0 L288.2,327.0 L288.8,327.0 L289.4,327.0 L290.0,327.0 L290.6,327.0 L291.2,327.0 L291.8,327.0 L292.4,327.0 L293.0,327.0 L293.6,327.0 L294.2,327.0 L294.8,327.0 L295.4,327.0 L296.0,327.1 L296.6,327.1 L297.2,327.1 L297.8,327.1 L298.4,327.1 L299.0,327.1 L299.6,327.1 L300.2,327.1 L300.8,327.1 L301.4,327.1 L302.0,327.1 L302.6,327.1 L303.2,327.1 L303.8,327.1 L304.4,327.1 L305.0,327.1 L305.6,327.1 L306.2,327.1 L306.8,327.1 L307.4,327.1 L308.0,327.1 L308.6,327.1 L309.2,327.1 L309.8,327.1 L310.4,327.1 L311.0,327.1 L311.6,327.1 L312.2,327.1 L312.8,327.1 L313.4,327.1 L314.0,327.1 L314.6,327.1 L315.2,327.1 L315.8,327.1 L316.4,327.1 L317.0,327.1 L317.6,327.1 L318.2,327.1 L318.8,327.1 L319.4,327.1 L320.0,327.1 L320.6,327.1 L321.2,327.1 L321.8,327.1 L322.4,327.1 L323.0,327.1 L323.6,327.1 L324.2,327.1 L324.8,327.1 L325.4,327.1 L326.0,327.1 L326.6,327.1 L327.2,327.1 L327.8,327.1 L328.4,327.1 L329.0,327.1 L329.6,327.1 L330.2,327.1 L330.8,327.1 L331.4,327.1 L332.0,327.1 L332.6,327.1 L333.2,327.1 L333.8,327.1 L334.4,327.1 L335.0,327.1 L335.6,327.1 L336.2,327.1 L336.8,327.1 L337.4,327.1 L338.0,327.1 L338.6,327.1 L339.2,327.1 L339.8,327.1 L340.4,327.1 L341.0,327.1 L341.6,327.1 L342.2,327.1 L342.8,327.1 L343.4,327.1 L344.0,327.1 L344.6,327.1 L345.2,327.1 L345.8,327.1 L346.4,327.1 L347.0,327.1 L347.6,327.1 L348.2,327.1 L348.8,327.1 L349.4,327.1 L350.0,327.1 L350.6,327.1 L351.2,327.1 L351.8,327.1 L352.4,327.1 L353.0,327.1 L353.6,327.1 L354.2,327.1 L354.8,327.1 L355.4,327.1 L356.0,327.1 L356.6,327.1 L357.2,327.1 L357.8,327.1 L358.4,327.1 L359.0,327.1 L359.6,327.1 L360.2,327.1 L360.8,327.1 L361.4,327.1 L362.0,327.1 L362.6,327.1 L363.2,327.1 L363.8,327.1 L364.4,327.2 L365.0,327.7 L365.6,328.2 L366.2,328.3 L366.8,328.3 L367.4,328.3 L368.0,328.3 L368.6,328.3 L369.2,328.3 L369.8,328.3 L370.4,328.3 L371.0,328.3 L371.6,328.3 L372.2,328.3 L372.8,328.3 L373.4,328.3 L374.0,328.3 L374.6,328.3 L375.2,328.3 L375.8,328.3 L376.4,328.3 L377.0,328.3" stroke="#869494" stroke-width="1.25"/>
<path d="M103.4,109.8 L104.0,114.3 L104.6,118.6 L105.2,122.6 L105.8,126.2 L106.4,129.4 L107.0,132.3 L107.6,135.1 L108.2,137.7 L108.8,140.0 L109.4,141.8 L110.0,143.2 L110.6,144.4 L111.2,145.4 L111.8,146.2 L112.4,146.8 L113.0,147.0 L113.6,147.0 L114.2,147.0 L114.8,146.8 L115.4,146.6 L116.0,146.0 L116.6,145.3 L117.2,144.4 L117.8,143.3 L118.4,142.2 L119.0,141.0 L119.6,139.7 L120.2,138.5 L120.8,137.1 L121.4,135.5 L122.0,133.8 L122.6,132.1 L123.2,130.3 L123.8,128.6 L124.4,127.0 L125.0,125.5 L125.6,124.2 L126.2,123.0 L126.8,122.0 L127.4,121.3 L128.0,120.8 L128.6,120.3 L129.2,119.7 L129.8,119.2 L130.4,118.6 L131.0,118.1 L131.6,117.7 L132.2,117.3 L132.8,117.1 L133.4,116.8 L134.0,116.6 L134.6,116.4 L135.2,116.1 L135.8,115.9 L136.4,115.6 L137.0,115.4 L137.6,115.2 L138.2,115.1 L138.8,114.9 L139.4,114.7 L140.0,114.5 L140.6,114.4 L141.2,114.2 L141.8,114.2 L142.4,114.2 L143.0,114.3 L143.6,114.7 L144.2,115.2 L144.8,115.8 L145.4,116.6 L146.0,117.5 L146.6,118.5 L147.2,119.5 L147.8,120.5 L148.4,121.6 L149.0,122.9 L149.6,124.3 L150.2,125.8 L150.8,127.5 L151.4,129.2 L152.0,131.1 L152.6,133.1 L153.2,135.3 L153.8,137.5 L154.4,139.8 L155.0,142.0 L155.6,144.3 L156.2,146.7 L156.8,149.1 L157.4,151.6 L158.0,154.0 L158.6,156.5 L159.2,159.0 L159.8,161.7 L160.4,164.4 L161.0,167.0 L161.6,169.4 L162.2,171.6 L162.8,173.5 L163.4,175.3 L164.0,177.0 L164.6,178.6 L165.2,180.4 L165.8,182.5 L166.4,184.9 L167.0,187.6 L167.6,190.4 L168.2,192.9 L168.8,195.1 L169.4,197.2 L170.0,199.3 L170.6,201.2 L171.2,203.1 L171.8,204.9 L172.4,206.6 L173.0,208.2 L173.6,209.8 L174.2,211.4 L174.8,213.0 L175.4,214.5 L176.0,216.0 L176.6,217.5 L177.2,218.9 L177.8,220.3 L178.4,221.6 L179.0,223.0 L179.6,224.3 L180.2,225.7 L180.8,227.1 L181.4,228.5 L182.0,229.9 L182.6,231.3 L183.2,232.8 L183.8,234.2 L184.4,235.7 L185.0,237.1 L185.6,238.6 L186.2,240.1 L186.8,241.7 L187.4,243.3 L188.0,244.9 L188.6,246.5 L189.2,248.1 L189.8,249.7 L190.4,251.2 L191.0,252.9 L191.6,254.4 L192.2,256.0 L192.8,257.4 L193.4,258.6 L194.0,259.8 L194.6,260.9 L195.2,261.9 L195.8,262.9 L196.4,263.8 L197.0,264.7 L197.6,265.5 L198.2,266.3 L198.8,267.0 L199.4,267.7 L200.0,268.3 L200.6,268.9 L201.2,269.4 L201.8,269.9 L202.4,270.3 L203.0,270.7 L203.6,271.0 L204.2,271.4 L204.8,271.7 L205.4,272.0 L206.0,272.3 L206.6,272.5 L207.2,272.8 L207.8,273.0 L208.4,273.2 L209.0,273.4 L209.6,273.6 L210.2,273.8 L210.8,273.9 L211.4,274.1 L212.0,274.2 L212.6,274.4 L213.2,274.5 L213.8,274.7 L214.4,274.8 L215.0,275.0 L215.6,275.2 L216.2,275.5 L216.8,275.7 L217.4,276.0 L218.0,276.3 L218.6,276.7 L219.2,277.0 L219.8,277.4 L220.4,277.8 L221.0,278.3 L221.6,278.8 L222.2,279.4 L222.8,280.0 L223.4,280.7 L224.0,281.4 L224.6,282.2 L225.2,283.0 L225.8,283.9 L226.4,284.9 L227.0,286.0 L227.6,287.2 L228.2,288.3 L228.8,289.4 L229.4,290.5 L230.0,291.5 L230.6,292.6 L231.2,293.6 L231.8,294.6 L232.4,295.7 L233.0,296.7 L233.6,297.8 L234.2,298.9 L234.8,300.0 L235.4,301.1 L236.0,302.1 L236.6,303.2 L237.2,304.1 L237.8,305.1 L238.4,306.0 L239.0,306.8 L239.6,307.7 L240.2,308.5 L240.8,309.3 L241.4,310.0 L242.0,310.7 L242.6,311.4 L243.2,312.1 L243.8,312.8 L244.4,313.4 L245.0,314.1 L245.6,314.7 L246.2,315.2 L246.8,315.8 L247.4,316.4 L248.0,316.9 L248.6,317.4 L249.2,318.0 L249.8,318.4 L250.4,318.9 L251.0,319.4 L251.6,319.8 L252.2,320.2 L252.8,320.5 L253.4,320.9 L254.0,321.2 L254.6,321.6 L255.2,321.9 L255.8,322.2 L256.4,322.5 L257.0,322.7 L257.6,323.0 L258.2,323.3 L258.8,323.5 L259.4,323.8 L260.0,324.0 L260.6,324.2 L261.2,324.4 L261.8,324.6 L262.4,324.7 L263.0,324.9 L263.6,325.0 L264.2,325.1 L264.8,325.2 L265.4,325.4 L266.0,325.5 L266.6,325.6 L267.2,325.7 L267.8,325.8 L268.4,325.8 L269.0,325.9 L269.6,326.0 L270.2,326.0 L270.8,326.1 L271.4,326.1 L272.0,326.2 L272.6,326.2 L273.2,326.3 L273.8,326.3 L274.4,326.4 L275.0,326.4 L275.6,326.5 L276.2,326.5 L276.8,326.5 L277.4,326.6 L278.0,326.6 L278.6,326.6 L279.2,326.6 L279.8,326.6 L280.4,326.7 L281.0,326.7 L281.6,326.7 L282.2,326.7 L282.8,326.7 L283.4,326.7 L284.0,326.7 L284.6,326.7 L285.2,326.7 L285.8,326.7 L286.4,326.7 L287.0,326.8 L287.6,326.8 L288.2,326.8 L288.8,326.8 L289.4,326.8 L290.0,326.8 L290.6,326.8 L291.2,326.8 L291.8,326.8 L292.4,326.8 L293.0,326.8 L293.6,326.8 L294.2,326.8 L294.8,326.8 L295.4,326.8 L296.0,326.8 L296.6,326.8 L297.2,326.8 L297.8,326.8 L298.4,326.8 L299.0,326.8 L299.6,326.8 L300.2,326.8 L300.8,326.8 L301.4,326.8 L302.0,326.8 L302.6,326.8 L303.2,326.8 L303.8,326.8 L304.4,326.8 L305.0,326.8 L305.6,326.8 L306.2,326.8 L306.8,326.8 L307.4,326.8 L308.0,326.8 L308.6,326.8 L309.2,326.8 L309.8,326.8 L310.4,326.8 L311.0,326.8 L311.6,326.8 L312.2,326.8 L312.8,326.8 L313.4,326.8 L314.0,326.8 L314.6,326.8 L315.2,326.8 L315.8,326.8 L316.4,326.8 L317.0,326.8 L317.6,326.8 L318.2,326.8 L318.8,326.8 L319.4,326.8 L320.0,326.8 L320.6,326.8 L321.2,326.8 L321.8,326.8 L322.4,326.8 L323.0,326.8 L323.6,326.8 L324.2,326.8 L324.8,326.8 L325.4,326.8 L326.0,326.8 L326.6,326.8 L327.2,326.8 L327.8,326.8 L328.4,326.8 L329.0,326.8 L329.6,326.8 L330.2,326.8 L330.8,326.8 L331.4,326.8 L332.0,326.8 L332.6,326.8 L333.2,326.8 L333.8,326.8 L334.4,326.8 L335.0,326.8 L335.6,326.8 L336.2,326.8 L336.8,326.8 L337.4,326.8 L338.0,326.8 L338.6,326.8 L339.2,326.8 L339.8,326.8 L340.4,326.8 L341.0,326.8 L341.6,326.8 L342.2,326.8 L342.8,326.8 L343.4,326.8 L344.0,326.8 L344.6,326.8 L345.2,326.8 L345.8,326.8 L346.4,326.8 L347.0,326.8 L347.6,326.8 L348.2,326.8 L348.8,326.8 L349.4,326.8 L350.0,326.8 L350.6,326.8 L351.2,326.8 L351.8,326.8 L352.4,326.8 L353.0,326.8 L353.6,326.8 L354.2,326.8 L354.8,326.8 L355.4,326.8 L356.0,326.8 L356.6,326.8 L357.2,326.8 L357.8,326.8 L358.4,326.8 L359.0,326.8 L359.6,326.8 L360.2,326.8 L360.8,326.8 L361.4,326.8 L362.0,326.8 L362.6,326.8 L363.2,326.8 L363.8,326.8 L364.4,327.0 L365.0,327.5 L365.6,328.1 L366.2,328.2 L366.8,328.2 L367.4,328.2 L368.0,328.2 L368.6,328.2 L369.2,328.2 L369.8,328.2 L370.4,328.2 L371.0,328.2 L371.6,328.2 L372.2,328.2 L372.8,328.2 L373.4,328.2 L374.0,328.2 L374.6,328.2 L375.2,328.2 L375.8,328.2 L376.4,328.2 L377.0,328.2" stroke="#869494" stroke-width="1.25"/>
<path d="M103.4,105.9 L104.0,110.8 L104.6,115.4 L105.2,119.7 L105.8,123.6 L106.4,127.0 L107.0,130.3 L107.6,133.3 L108.2,136.0 L108.8,138.5 L109.4,140.6 L110.0,142.2 L110.6,143.7 L111.2,145.0 L111.8,146.1 L112.4,146.9 L113.0,147.4 L113.6,147.6 L114.2,147.9 L114.8,148.0 L115.4,147.9 L116.0,147.6 L116.6,147.0 L117.2,146.2 L117.8,145.3 L118.4,144.3 L119.0,143.2 L119.6,142.0 L120.2,140.8 L120.8,139.5 L121.4,138.0 L122.0,136.4 L122.6,134.6 L123.2,132.8 L123.8,131.1 L124.4,129.4 L125.0,127.7 L125.6,126.2 L126.2,124.8 L126.8,123.4 L127.4,122.4 L128.0,121.5 L128.6,120.6 L129.2,119.7 L129.8,118.9 L130.4,118.0 L131.0,117.2 L131.6,116.5 L132.2,115.9 L132.8,115.3 L133.4,114.8 L134.0,114.3 L134.6,113.8 L135.2,113.3 L135.8,112.8 L136.4,112.4 L137.0,112.0 L137.6,111.7 L138.2,111.4 L138.8,111.1 L139.4,110.8 L140.0,110.5 L140.6,110.2 L141.2,110.0 L141.8,109.8 L142.4,109.8 L143.0,109.9 L143.6,110.1 L144.2,110.6 L144.8,111.2 L145.4,112.0 L146.0,112.8 L146.6,113.8 L147.2,114.7 L147.8,115.7 L148.4,116.8 L149.0,118.0 L149.6,119.4 L150.2,121.0 L150.8,122.6 L151.4,124.3 L152.0,126.2 L152.6,128.2 L153.2,130.4 L153.8,132.7 L154.4,135.0 L155.0,137.3 L155.6,139.6 L156.2,142.1 L156.8,144.5 L157.4,147.0 L158.0,149.6 L158.6,152.1 L159.2,154.8 L159.8,157.5 L160.4,160.3 L161.0,163.0 L161.6,165.6 L162.2,167.8 L162.8,169.8 L163.4,171.6 L164.0,173.4 L164.6,175.1 L165.2,177.0 L165.8,179.1 L166.4,181.7 L167.0,184.5 L167.6,187.5 L168.2,190.1 L168.8,192.5 L169.4,194.8 L170.0,196.9 L170.6,199.0 L171.2,201.0 L171.8,202.9 L172.4,204.7 L173.0,206.4 L173.6,208.2 L174.2,209.8 L174.8,211.4 L175.4,213.0 L176.0,214.6 L176.6,216.1 L177.2,217.6 L177.8,219.0 L178.4,220.4 L179.0,221.8 L179.6,223.2 L180.2,224.6 L180.8,226.0 L181.4,227.4 L182.0,228.9 L182.6,230.3 L183.2,231.8 L183.8,233.2 L184.4,234.7 L185.0,236.1 L185.6,237.6 L186.2,239.2 L186.8,240.7 L187.4,242.3 L188.0,243.9 L188.6,245.6 L189.2,247.1 L189.8,248.7 L190.4,250.3 L191.0,251.9 L191.6,253.5 L192.2,255.0 L192.8,256.4 L193.4,257.6 L194.0,258.7 L194.6,259.8 L195.2,260.8 L195.8,261.7 L196.4,262.6 L197.0,263.4 L197.6,264.1 L198.2,264.8 L198.8,265.5 L199.4,266.1 L200.0,266.7 L200.6,267.2 L201.2,267.7 L201.8,268.1 L202.4,268.4 L203.0,268.8 L203.6,269.1 L204.2,269.4 L204.8,269.7 L205.4,269.9 L206.0,270.2 L206.6,270.4 L207.2,270.6 L207.8,270.8 L208.4,271.0 L209.0,271.2 L209.6,271.3 L210.2,271.5 L210.8,271.6 L211.4,271.7 L212.0,271.8 L212.6,272.0 L213.2,272.1 L213.8,272.3 L214.4,272.4 L215.0,272.6 L215.6,272.8 L216.2,273.0 L216.8,273.3 L217.4,273.6 L218.0,273.9 L218.6,274.2 L219.2,274.6 L219.8,275.0 L220.4,275.4 L221.0,275.9 L221.6,276.4 L222.2,277.1 L222.8,277.7 L223.4,278.4 L224.0,279.2 L224.6,280.0 L225.2,280.8 L225.8,281.7 L226.4,282.8 L227.0,283.9 L227.6,285.1 L228.2,286.4 L228.8,287.5 L229.4,288.6 L230.0,289.7 L230.6,290.8 L231.2,291.9 L231.8,292.9 L232.4,294.0 L233.0,295.1 L233.6,296.2 L234.2,297.4 L234.8,298.5 L235.4,299.7 L236.0,300.8 L236.6,301.8 L237.2,302.9 L237.8,303.8 L238.4,304.8 L239.0,305.7 L239.6,306.6 L240.2,307.4 L240.8,308.2 L241.4,309.0 L242.0,309.7 L242.6,310.5 L243.2,311.2 L243.8,311.9 L244.4,312.6 L245.0,313.2 L245.6,313.9 L246.2,314.5 L246.8,315.1 L247.4,315.7 L248.0,316.2 L248.6,316.8 L249.2,317.3 L249.8,317.8 L250.4,318.3 L251.0,318.8 L251.6,319.2 L252.2,319.6 L252.8,320.0 L253.4,320.4 L254.0,320.8 L254.6,321.1 L255.2,321.4 L255.8,321.7 L256.4,322.1 L257.0,322.3 L257.6,322.6 L258.2,322.9 L258.8,323.2 L259.4,323.4 L260.0,323.7 L260.6,323.9 L261.2,324.1 L261.8,324.3 L262.4,324.4 L263.0,324.6 L263.6,324.7 L264.2,324.9 L264.8,325.0 L265.4,325.1 L266.0,325.2 L266.6,325.3 L267.2,325.4 L267.8,325.5 L268.4,325.6 L269.0,325.7 L269.6,325.7 L270.2,325.8 L270.8,325.9 L271.4,325.9 L272.0,326.0 L272.6,326.0 L273.2,326.1 L273.8,326.1 L274.4,326.2 L275.0,326.2 L275.6,326.3 L276.2,326.3 L276.8,326.3 L277.4,326.4 L278.0,326.4 L278.6,326.4 L279.2,326.5 L279.8,326.5 L280.4,326.5 L281.0,326.5 L281.6,326.5 L282.2,326.5 L282.8,326.5 L283.4,326.5 L284.0,326.5 L284.6,326.5 L285.2,326.6 L285.8,326.6 L286.4,326.6 L287.0,326.6 L287.6,326.6 L288.2,326.6 L288.8,326.6 L289.4,326.6 L290.0,326.6 L290.6,326.6 L291.2,326.6 L291.8,326.6 L292.4,326.6 L293.0,326.6 L293.6,326.6 L294.2,326.6 L294.8,326.7 L295.4,326.7 L296.0,326.7 L296.6,326.7 L297.2,326.7 L297.8,326.7 L298.4,326.7 L299.0,326.7 L299.6,326.7 L300.2,326.7 L300.8,326.7 L301.4,326.7 L302.0,326.7 L302.6,326.7 L303.2,326.7 L303.8,326.7 L304.4,326.7 L305.0,326.7 L305.6,326.7 L306.2,326.7 L306.8,326.7 L307.4,326.7 L308.0,326.7 L308.6,326.7 L309.2,326.7 L309.8,326.7 L310.4,326.7 L311.0,326.7 L311.6,326.7 L312.2,326.7 L312.8,326.7 L313.4,326.7 L314.0,326.7 L314.6,326.7 L315.2,326.7 L315.8,326.7 L316.4,326.7 L317.0,326.7 L317.6,326.7 L318.2,326.7 L318.8,326.7 L319.4,326.7 L320.0,326.7 L320.6,326.7 L321.2,326.7 L321.8,326.7 L322.4,326.7 L323.0,326.7 L323.6,326.7 L324.2,326.7 L324.8,326.7 L325.4,326.7 L326.0,326.7 L326.6,326.7 L327.2,326.7 L327.8,326.7 L328.4,326.7 L329.0,326.7 L329.6,326.7 L330.2,326.7 L330.8,326.7 L331.4,326.7 L332.0,326.7 L332.6,326.7 L333.2,326.7 L333.8,326.7 L334.4,326.7 L335.0,326.7 L335.6,326.7 L336.2,326.7 L336.8,326.7 L337.4,326.7 L338.0,326.7 L338.6,326.7 L339.2,326.7 L339.8,326.7 L340.4,326.7 L341.0,326.7 L341.6,326.7 L342.2,326.7 L342.8,326.7 L343.4,326.7 L344.0,326.7 L344.6,326.7 L345.2,326.7 L345.8,326.7 L346.4,326.7 L347.0,326.7 L347.6,326.7 L348.2,326.7 L348.8,326.7 L349.4,326.7 L350.0,326.7 L350.6,326.7 L351.2,326.7 L351.8,326.7 L352.4,326.7 L353.0,326.7 L353.6,326.7 L354.2,326.7 L354.8,326.7 L355.4,326.7 L356.0,326.7 L356.6,326.7 L357.2,326.7 L357.8,326.7 L358.4,326.7 L359.0,326.7 L359.6,326.7 L360.2,326.7 L360.8,326.7 L361.4,326.7 L362.0,326.7 L362.6,326.7 L363.2,326.7 L363.8,326.7 L364.4,326.8 L365.0,327.4 L365.6,328.0 L366.2,328.1 L366.8,328.1 L367.4,328.1 L368.0,328.1 L368.6,328.1 L369.2,328.1 L369.8,328.1 L370.4,328.1 L371.0,328.1 L371.6,328.1 L372.2,328.1 L372.8,328.1 L373.4,328.1 L374.0,328.1 L374.6,328.1 L375.2,328.1 L375.8,328.1 L376.4,328.1 L377.0,328.1" stroke="#869494" stroke-width="1.25"/>
<path d="M103.4,102.8 L104.0,108.0 L104.6,112.9 L105.2,117.4 L105.8,121.5 L106.4,125.2 L107.0,128.6 L107.6,131.8 L108.2,134.7 L108.8,137.4 L109.4,139.6 L110.0,141.5 L110.6,143.1 L111.2,144.7 L111.8,146.0 L112.4,147.0 L113.0,147.7 L113.6,148.1 L114.2,148.6 L114.8,148.9 L115.4,148.9 L116.0,148.7 L116.6,148.3 L117.2,147.7 L117.8,146.8 L118.4,145.9 L119.0,144.9 L119.6,143.8 L120.2,142.7 L120.8,141.5 L121.4,140.0 L122.0,138.3 L122.6,136.6 L123.2,134.8 L123.8,133.0 L124.4,131.3 L125.0,129.5 L125.6,127.8 L126.2,126.1 L126.8,124.6 L127.4,123.2 L128.0,122.1 L128.6,120.9 L129.2,119.8 L129.8,118.6 L130.4,117.6 L131.0,116.6 L131.6,115.6 L132.2,114.7 L132.8,114.0 L133.4,113.2 L134.0,112.5 L134.6,111.8 L135.2,111.1 L135.8,110.4 L136.4,109.8 L137.0,109.3 L137.6,108.9 L138.2,108.5 L138.8,108.1 L139.4,107.6 L140.0,107.3 L140.6,106.9 L141.2,106.6 L141.8,106.4 L142.4,106.3 L143.0,106.3 L143.6,106.5 L144.2,107.0 L144.8,107.5 L145.4,108.3 L146.0,109.1 L146.6,110.0 L147.2,111.0 L147.8,111.9 L148.4,113.0 L149.0,114.2 L149.6,115.6 L150.2,117.1 L150.8,118.8 L151.4,120.5 L152.0,122.3 L152.6,124.4 L153.2,126.6 L153.8,128.9 L154.4,131.2 L155.0,133.6 L155.6,135.9 L156.2,138.4 L156.8,140.9 L157.4,143.5 L158.0,146.0 L158.6,148.6 L159.2,151.4 L159.8,154.2 L160.4,157.1 L161.0,159.9 L161.6,162.5 L162.2,164.9 L162.8,166.9 L163.4,168.8 L164.0,170.5 L164.6,172.4 L165.2,174.3 L165.8,176.5 L166.4,179.1 L167.0,182.1 L167.6,185.2 L168.2,188.0 L168.8,190.4 L169.4,192.8 L170.0,195.1 L170.6,197.2 L171.2,199.3 L171.8,201.3 L172.4,203.2 L173.0,205.0 L173.6,206.8 L174.2,208.5 L174.8,210.2 L175.4,211.9 L176.0,213.5 L176.6,215.1 L177.2,216.6 L177.8,218.1 L178.4,219.5 L179.0,220.9 L179.6,222.3 L180.2,223.7 L180.8,225.1 L181.4,226.6 L182.0,228.0 L182.6,229.5 L183.2,230.9 L183.8,232.4 L184.4,233.9 L185.0,235.4 L185.6,236.9 L186.2,238.4 L186.8,240.0 L187.4,241.6 L188.0,243.2 L188.6,244.8 L189.2,246.4 L189.8,247.9 L190.4,249.5 L191.0,251.1 L191.6,252.7 L192.2,254.2 L192.8,255.6 L193.4,256.8 L194.0,257.9 L194.6,258.9 L195.2,259.8 L195.8,260.7 L196.4,261.6 L197.0,262.3 L197.6,263.0 L198.2,263.7 L198.8,264.3 L199.4,264.9 L200.0,265.4 L200.6,265.9 L201.2,266.3 L201.8,266.7 L202.4,267.0 L203.0,267.3 L203.6,267.6 L204.2,267.8 L204.8,268.1 L205.4,268.3 L206.0,268.5 L206.6,268.7 L207.2,268.9 L207.8,269.1 L208.4,269.3 L209.0,269.4 L209.6,269.5 L210.2,269.7 L210.8,269.8 L211.4,269.9 L212.0,270.0 L212.6,270.1 L213.2,270.2 L213.8,270.4 L214.4,270.5 L215.0,270.7 L215.6,270.9 L216.2,271.1 L216.8,271.4 L217.4,271.7 L218.0,272.0 L218.6,272.3 L219.2,272.7 L219.8,273.1 L220.4,273.5 L221.0,274.0 L221.6,274.6 L222.2,275.2 L222.8,275.9 L223.4,276.6 L224.0,277.4 L224.6,278.2 L225.2,279.0 L225.8,280.0 L226.4,281.1 L227.0,282.3 L227.6,283.5 L228.2,284.8 L228.8,286.0 L229.4,287.1 L230.0,288.3 L230.6,289.4 L231.2,290.5 L231.8,291.6 L232.4,292.7 L233.0,293.9 L233.6,295.0 L234.2,296.2 L234.8,297.4 L235.4,298.6 L236.0,299.7 L236.6,300.8 L237.2,301.8 L237.8,302.9 L238.4,303.8 L239.0,304.8 L239.6,305.7 L240.2,306.5 L240.8,307.4 L241.4,308.2 L242.0,309.0 L242.6,309.7 L243.2,310.5 L243.8,311.2 L244.4,311.9 L245.0,312.6 L245.6,313.2 L246.2,313.9 L246.8,314.5 L247.4,315.1 L248.0,315.7 L248.6,316.3 L249.2,316.8 L249.8,317.4 L250.4,317.9 L251.0,318.3 L251.6,318.8 L252.2,319.2 L252.8,319.6 L253.4,320.0 L254.0,320.4 L254.6,320.7 L255.2,321.1 L255.8,321.4 L256.4,321.7 L257.0,322.0 L257.6,322.3 L258.2,322.6 L258.8,322.9 L259.4,323.2 L260.0,323.4 L260.6,323.7 L261.2,323.9 L261.8,324.1 L262.4,324.2 L263.0,324.4 L263.6,324.5 L264.2,324.7 L264.8,324.8 L265.4,324.9 L266.0,325.0 L266.6,325.1 L267.2,325.3 L267.8,325.3 L268.4,325.4 L269.0,325.5 L269.6,325.6 L270.2,325.6 L270.8,325.7 L271.4,325.8 L272.0,325.8 L272.6,325.9 L273.2,325.9 L273.8,326.0 L274.4,326.0 L275.0,326.1 L275.6,326.1 L276.2,326.2 L276.8,326.2 L277.4,326.2 L278.0,326.3 L278.6,326.3 L279.2,326.3 L279.8,326.3 L280.4,326.3 L281.0,326.4 L281.6,326.4 L282.2,326.4 L282.8,326.4 L283.4,326.4 L284.0,326.4 L284.6,326.4 L285.2,326.4 L285.8,326.4 L286.4,326.4 L287.0,326.4 L287.6,326.5 L288.2,326.5 L288.8,326.5 L289.4,326.5 L290.0,326.5 L290.6,326.5 L291.2,326.5 L291.8,326.5 L292.4,326.5 L293.0,326.5 L293.6,326.5 L294.2,326.5 L294.8,326.5 L295.4,326.5 L296.0,326.5 L296.6,326.5 L297.2,326.5 L297.8,326.5 L298.4,326.5 L299.0,326.5 L299.6,326.5 L300.2,326.5 L300.8,326.5 L301.4,326.5 L302.0,326.5 L302.6,326.5 L303.2,326.5 L303.8,326.5 L304.4,326.5 L305.0,326.5 L305.6,326.5 L306.2,326.5 L306.8,326.5 L307.4,326.5 L308.0,326.5 L308.6,326.5 L309.2,326.5 L309.8,326.5 L310.4,326.5 L311.0,326.5 L311.6,326.5 L312.2,326.5 L312.8,326.5 L313.4,326.5 L314.0,326.5 L314.6,326.5 L315.2,326.5 L315.8,326.5 L316.4,326.5 L317.0,326.5 L317.6,326.5 L318.2,326.5 L318.8,326.5 L319.4,326.5 L320.0,326.5 L320.6,326.5 L321.2,326.5 L321.8,326.5 L322.4,326.5 L323.0,326.5 L323.6,326.5 L324.2,326.5 L324.8,326.5 L325.4,326.5 L326.0,326.5 L326.6,326.5 L327.2,326.5 L327.8,326.5 L328.4,326.5 L329.0,326.5 L329.6,326.5 L330.2,326.5 L330.8,326.5 L331.4,326.5 L332.0,326.5 L332.6,326.5 L333.2,326.5 L333.8,326.5 L334.4,326.5 L335.0,326.5 L335.6,326.5 L336.2,326.5 L336.8,326.5 L337.4,326.5 L338.0,326.5 L338.6,326.5 L339.2,326.5 L339.8,326.5 L340.4,326.5 L341.0,326.5 L341.6,326.5 L342.2,326.5 L342.8,326.5 L343.4,326.5 L344.0,326.5 L344.6,326.5 L345.2,326.5 L345.8,326.5 L346.4,326.5 L347.0,326.5 L347.6,326.5 L348.2,326.5 L348.8,326.5 L349.4,326.5 L350.0,326.5 L350.6,326.5 L351.2,326.5 L351.8,326.5 L352.4,326.5 L353.0,326.5 L353.6,326.5 L354.2,326.5 L354.8,326.5 L355.4,326.5 L356.0,326.5 L356.6,326.5 L357.2,326.5 L357.8,326.5 L358.4,326.5 L359.0,326.5 L359.6,326.5 L360.2,326.5 L360.8,326.5 L361.4,326.5 L362.0,326.5 L362.6,326.5 L363.2,326.5 L363.8,326.5 L364.4,326.7 L365.0,327.3 L365.6,327.9 L366.2,328.1 L366.8,328.1 L367.4,328.1 L368.0,328.1 L368.6,328.1 L369.2,328.1 L369.8,328.1 L370.4,328.1 L371.0,328.1 L371.6,328.1 L372.2,328.1 L372.8,328.1 L373.4,328.1 L374.0,328.1 L374.6,328.1 L375.2,328.1 L375.8,328.1 L376.4,328.1 L377.0,328.1" stroke="#869494" stroke-width="1.25"/>
<path d="M103.4,100.4 L104.0,105.8 L104.6,110.9 L105.2,115.7 L105.8,120.0 L106.4,123.8 L107.0,127.3 L107.6,130.7 L108.2,133.7 L108.8,136.5 L109.4,138.9 L110.0,140.9 L110.6,142.7 L111.2,144.4 L111.8,145.9 L112.4,147.1 L113.0,147.9 L113.6,148.5 L114.2,149.1 L114.8,149.5 L115.4,149.8 L116.0,149.7 L116.6,149.3 L117.2,148.8 L117.8,148.0 L118.4,147.2 L119.0,146.2 L119.6,145.2 L120.2,144.2 L120.8,143.0 L121.4,141.5 L122.0,139.9 L122.6,138.1 L123.2,136.3 L123.8,134.5 L124.4,132.7 L125.0,130.9 L125.6,129.0 L126.2,127.2 L126.8,125.4 L127.4,123.9 L128.0,122.5 L128.6,121.1 L129.2,119.8 L129.8,118.5 L130.4,117.2 L131.0,116.0 L131.6,114.9 L132.2,113.8 L132.8,112.9 L133.4,112.0 L134.0,111.0 L134.6,110.2 L135.2,109.3 L135.8,108.6 L136.4,107.8 L137.0,107.2 L137.6,106.7 L138.2,106.2 L138.8,105.7 L139.4,105.2 L140.0,104.7 L140.6,104.3 L141.2,104.0 L141.8,103.7 L142.4,103.6 L143.0,103.6 L143.6,103.7 L144.2,104.1 L144.8,104.7 L145.4,105.4 L146.0,106.2 L146.6,107.1 L147.2,108.0 L147.8,108.9 L148.4,110.0 L149.0,111.2 L149.6,112.6 L150.2,114.1 L150.8,115.7 L151.4,117.4 L152.0,119.3 L152.6,121.4 L153.2,123.6 L153.8,125.9 L154.4,128.3 L155.0,130.6 L155.6,133.0 L156.2,135.5 L156.8,138.1 L157.4,140.7 L158.0,143.3 L158.6,145.9 L159.2,148.7 L159.8,151.7 L160.4,154.6 L161.0,157.5 L161.6,160.1 L162.2,162.5 L162.8,164.6 L163.4,166.5 L164.0,168.3 L164.6,170.2 L165.2,172.2 L165.8,174.4 L166.4,177.2 L167.0,180.3 L167.6,183.4 L168.2,186.3 L168.8,188.8 L169.4,191.3 L170.0,193.6 L170.6,195.9 L171.2,198.0 L171.8,200.1 L172.4,202.0 L173.0,203.9 L173.6,205.8 L174.2,207.6 L174.8,209.3 L175.4,211.0 L176.0,212.6 L176.6,214.2 L177.2,215.8 L177.8,217.3 L178.4,218.8 L179.0,220.2 L179.6,221.6 L180.2,223.0 L180.8,224.5 L181.4,225.9 L182.0,227.4 L182.6,228.9 L183.2,230.3 L183.8,231.8 L184.4,233.3 L185.0,234.7 L185.6,236.2 L186.2,237.8 L186.8,239.3 L187.4,241.0 L188.0,242.6 L188.6,244.2 L189.2,245.8 L189.8,247.4 L190.4,248.9 L191.0,250.5 L191.6,252.1 L192.2,253.6 L192.8,254.9 L193.4,256.1 L194.0,257.2 L194.6,258.2 L195.2,259.1 L195.8,260.0 L196.4,260.8 L197.0,261.5 L197.6,262.1 L198.2,262.8 L198.8,263.3 L199.4,263.9 L200.0,264.4 L200.6,264.8 L201.2,265.2 L201.8,265.5 L202.4,265.8 L203.0,266.1 L203.6,266.4 L204.2,266.6 L204.8,266.8 L205.4,267.0 L206.0,267.2 L206.6,267.4 L207.2,267.6 L207.8,267.7 L208.4,267.9 L209.0,268.0 L209.6,268.1 L210.2,268.2 L210.8,268.3 L211.4,268.4 L212.0,268.5 L212.6,268.6 L213.2,268.7 L213.8,268.9 L214.4,269.0 L215.0,269.2 L215.6,269.4 L216.2,269.6 L216.8,269.9 L217.4,270.2 L218.0,270.5 L218.6,270.8 L219.2,271.2 L219.8,271.6 L220.4,272.0 L221.0,272.5 L221.6,273.1 L222.2,273.7 L222.8,274.4 L223.4,275.2 L224.0,276.0 L224.6,276.8 L225.2,277.7 L225.8,278.7 L226.4,279.8 L227.0,281.0 L227.6,282.3 L228.2,283.6 L228.8,284.8 L229.4,286.0 L230.0,287.1 L230.6,288.3 L231.2,289.4 L231.8,290.6 L232.4,291.7 L233.0,292.9 L233.6,294.0 L234.2,295.3 L234.8,296.5 L235.4,297.7 L236.0,298.9 L236.6,300.0 L237.2,301.1 L237.8,302.1 L238.4,303.1 L239.0,304.0 L239.6,305.0 L240.2,305.9 L240.8,306.7 L241.4,307.6 L242.0,308.4 L242.6,309.1 L243.2,309.9 L243.8,310.6 L244.4,311.4 L245.0,312.1 L245.6,312.7 L246.2,313.4 L246.8,314.0 L247.4,314.6 L248.0,315.3 L248.6,315.8 L249.2,316.4 L249.8,317.0 L250.4,317.5 L251.0,318.0 L251.6,318.5 L252.2,318.9 L252.8,319.3 L253.4,319.7 L254.0,320.1 L254.6,320.5 L255.2,320.8 L255.8,321.2 L256.4,321.5 L257.0,321.8 L257.6,322.1 L258.2,322.4 L258.8,322.7 L259.4,323.0 L260.0,323.2 L260.6,323.5 L261.2,323.7 L261.8,323.9 L262.4,324.0 L263.0,324.2 L263.6,324.4 L264.2,324.5 L264.8,324.6 L265.4,324.8 L266.0,324.9 L266.6,325.0 L267.2,325.1 L267.8,325.2 L268.4,325.3 L269.0,325.4 L269.6,325.4 L270.2,325.5 L270.8,325.6 L271.4,325.6 L272.0,325.7 L272.6,325.8 L273.2,325.8 L273.8,325.9 L274.4,325.9 L275.0,326.0 L275.6,326.0 L276.2,326.1 L276.8,326.1 L277.4,326.1 L278.0,326.2 L278.6,326.2 L279.2,326.2 L279.8,326.2 L280.4,326.2 L281.0,326.2 L281.6,326.3 L282.2,326.3 L282.8,326.3 L283.4,326.3 L284.0,326.3 L284.6,326.3 L285.2,326.3 L285.8,326.3 L286.4,326.3 L287.0,326.3 L287.6,326.3 L288.2,326.4 L288.8,326.4 L289.4,326.4 L290.0,326.4 L290.6,326.4 L291.2,326.4 L291.8,326.4 L292.4,326.4 L293.0,326.4 L293.6,326.4 L294.2,326.4 L294.8,326.4 L295.4,326.4 L296.0,326.4 L296.6,326.4 L297.2,326.4 L297.8,326.4 L298.4,326.4 L299.0,326.4 L299.6,326.4 L300.2,326.4 L300.8,326.4 L301.4,326.4 L302.0,326.4 L302.6,326.4 L303.2,326.4 L303.8,326.4 L304.4,326.4 L305.0,326.4 L305.6,326.4 L306.2,326.4 L306.8,326.4 L307.4,326.4 L308.0,326.4 L308.6,326.4 L309.2,326.4 L309.8,326.4 L310.4,326.4 L311.0,326.4 L311.6,326.4 L312.2,326.4 L312.8,326.4 L313.4,326.4 L314.0,326.4 L314.6,326.4 L315.2,326.4 L315.8,326.4 L316.4,326.4 L317.0,326.4 L317.6,326.4 L318.2,326.4 L318.8,326.4 L319.4,326.4 L320.0,326.4 L320.6,326.4 L321.2,326.4 L321.8,326.4 L322.4,326.4 L323.0,326.4 L323.6,326.4 L324.2,326.4 L324.8,326.4 L325.4,326.4 L326.0,326.4 L326.6,326.4 L327.2,326.4 L327.8,326.4 L328.4,326.4 L329.0,326.4 L329.6,326.4 L330.2,326.4 L330.8,326.4 L331.4,326.4 L332.0,326.4 L332.6,326.4 L333.2,326.4 L333.8,326.4 L334.4,326.4 L335.0,326.4 L335.6,326.4 L336.2,326.4 L336.8,326.4 L337.4,326.4 L338.0,326.4 L338.6,326.4 L339.2,326.4 L339.8,326.4 L340.4,326.4 L341.0,326.4 L341.6,326.4 L342.2,326.4 L342.8,326.4 L343.4,326.4 L344.0,326.4 L344.6,326.4 L345.2,326.4 L345.8,326.4 L346.4,326.4 L347.0,326.4 L347.6,326.4 L348.2,326.4 L348.8,326.4 L349.4,326.4 L350.0,326.4 L350.6,326.4 L351.2,326.4 L351.8,326.4 L352.4,326.4 L353.0,326.4 L353.6,326.4 L354.2,326.4 L354.8,326.4 L355.4,326.4 L356.0,326.4 L356.6,326.4 L357.2,326.4 L357.8,326.4 L358.4,326.4 L359.0,326.4 L359.6,326.4 L360.2,326.4 L360.8,326.4 L361.4,326.4 L362.0,326.4 L362.6,326.4 L363.2,326.4 L363.8,326.4 L364.4,326.6 L365.0,327.2 L365.6,327.9 L366.2,328.0 L366.8,328.0 L367.4,328.0 L368.0,328.0 L368.6,328.0 L369.2,328.0 L369.8,328.0 L370.4,328.0 L371.0,328.0 L371.6,328.0 L372.2,328.0 L372.8,328.0 L373.4,328.0 L374.0,328.0 L374.6,328.0 L375.2,328.0 L375.8,328.0 L376.4,328.0 L377.0,328.0" stroke="#869494" stroke-width="1.25"/>
<path d="M103.4,98.9 L104.0,104.4 L104.6,109.7 L105.2,114.5 L105.8,119.0 L106.4,122.9 L107.0,126.5 L107.6,129.9 L108.2,133.1 L108.8,135.9 L109.4,138.4 L110.0,140.5 L110.6,142.4 L111.2,144.3 L111.8,145.8 L112.4,147.1 L113.0,148.1 L113.6,148.8 L114.2,149.5 L114.8,150.0 L115.4,150.3 L116.0,150.3 L116.6,150.0 L117.2,149.5 L117.8,148.8 L118.4,148.0 L119.0,147.1 L119.6,146.1 L120.2,145.1 L120.8,143.9 L121.4,142.5 L122.0,140.9 L122.6,139.1 L123.2,137.3 L123.8,135.5 L124.4,133.7 L125.0,131.7 L125.6,129.8 L126.2,127.9 L126.8,126.0 L127.4,124.3 L128.0,122.8 L128.6,121.3 L129.2,119.8 L129.8,118.3 L130.4,117.0 L131.0,115.7 L131.6,114.4 L132.2,113.3 L132.8,112.2 L133.4,111.2 L134.0,110.2 L134.6,109.2 L135.2,108.2 L135.8,107.4 L136.4,106.6 L137.0,105.9 L137.6,105.3 L138.2,104.7 L138.8,104.2 L139.4,103.7 L140.0,103.2 L140.6,102.7 L141.2,102.3 L141.8,102.0 L142.4,101.9 L143.0,101.8 L143.6,102.0 L144.2,102.3 L144.8,102.9 L145.4,103.6 L146.0,104.4 L146.6,105.2 L147.2,106.2 L147.8,107.1 L148.4,108.1 L149.0,109.3 L149.6,110.7 L150.2,112.2 L150.8,113.8 L151.4,115.5 L152.0,117.4 L152.6,119.5 L153.2,121.7 L153.8,124.0 L154.4,126.4 L155.0,128.8 L155.6,131.2 L156.2,133.7 L156.8,136.3 L157.4,138.9 L158.0,141.5 L158.6,144.2 L159.2,147.1 L159.8,150.0 L160.4,153.0 L161.0,155.9 L161.6,158.6 L162.2,161.1 L162.8,163.2 L163.4,165.1 L164.0,166.9 L164.6,168.8 L165.2,170.8 L165.8,173.1 L166.4,175.9 L167.0,179.1 L167.6,182.3 L168.2,185.2 L168.8,187.8 L169.4,190.3 L170.0,192.7 L170.6,195.0 L171.2,197.2 L171.8,199.3 L172.4,201.3 L173.0,203.2 L173.6,205.1 L174.2,206.9 L174.8,208.7 L175.4,210.4 L176.0,212.1 L176.6,213.7 L177.2,215.3 L177.8,216.8 L178.4,218.3 L179.0,219.7 L179.6,221.2 L180.2,222.6 L180.8,224.0 L181.4,225.5 L182.0,227.0 L182.6,228.4 L183.2,229.9 L183.8,231.4 L184.4,232.9 L185.0,234.3 L185.6,235.9 L186.2,237.4 L186.8,239.0 L187.4,240.6 L188.0,242.2 L188.6,243.8 L189.2,245.4 L189.8,247.0 L190.4,248.6 L191.0,250.2 L191.6,251.7 L192.2,253.2 L192.8,254.6 L193.4,255.7 L194.0,256.8 L194.6,257.8 L195.2,258.7 L195.8,259.5 L196.4,260.3 L197.0,261.0 L197.6,261.6 L198.2,262.2 L198.8,262.7 L199.4,263.3 L200.0,263.7 L200.6,264.2 L201.2,264.5 L201.8,264.8 L202.4,265.1 L203.0,265.4 L203.6,265.6 L204.2,265.8 L204.8,266.1 L205.4,266.2 L206.0,266.4 L206.6,266.6 L207.2,266.7 L207.8,266.9 L208.4,267.0 L209.0,267.2 L209.6,267.3 L210.2,267.3 L210.8,267.4 L211.4,267.5 L212.0,267.6 L212.6,267.7 L213.2,267.8 L213.8,267.9 L214.4,268.1 L215.0,268.2 L215.6,268.4 L216.2,268.7 L216.8,268.9 L217.4,269.2 L218.0,269.5 L218.6,269.9 L219.2,270.3 L219.8,270.6 L220.4,271.1 L221.0,271.6 L221.6,272.2 L222.2,272.8 L222.8,273.5 L223.4,274.3 L224.0,275.1 L224.6,275.9 L225.2,276.8 L225.8,277.8 L226.4,279.0 L227.0,280.2 L227.6,281.5 L228.2,282.8 L228.8,284.0 L229.4,285.2 L230.0,286.4 L230.6,287.6 L231.2,288.7 L231.8,289.9 L232.4,291.1 L233.0,292.2 L233.6,293.4 L234.2,294.7 L234.8,295.9 L235.4,297.1 L236.0,298.3 L236.6,299.5 L237.2,300.6 L237.8,301.6 L238.4,302.6 L239.0,303.6 L239.6,304.5 L240.2,305.4 L240.8,306.3 L241.4,307.2 L242.0,308.0 L242.6,308.8 L243.2,309.5 L243.8,310.3 L244.4,311.0 L245.0,311.7 L245.6,312.4 L246.2,313.1 L246.8,313.7 L247.4,314.4 L248.0,315.0 L248.6,315.6 L249.2,316.2 L249.8,316.7 L250.4,317.3 L251.0,317.8 L251.6,318.2 L252.2,318.7 L252.8,319.1 L253.4,319.5 L254.0,319.9 L254.6,320.3 L255.2,320.7 L255.8,321.0 L256.4,321.3 L257.0,321.6 L257.6,322.0 L258.2,322.3 L258.8,322.6 L259.4,322.8 L260.0,323.1 L260.6,323.4 L261.2,323.6 L261.8,323.8 L262.4,323.9 L263.0,324.1 L263.6,324.3 L264.2,324.4 L264.8,324.5 L265.4,324.7 L266.0,324.8 L266.6,324.9 L267.2,325.0 L267.8,325.1 L268.4,325.2 L269.0,325.3 L269.6,325.4 L270.2,325.4 L270.8,325.5 L271.4,325.6 L272.0,325.6 L272.6,325.7 L273.2,325.7 L273.8,325.8 L274.4,325.8 L275.0,325.9 L275.6,325.9 L276.2,326.0 L276.8,326.0 L277.4,326.1 L278.0,326.1 L278.6,326.1 L279.2,326.1 L279.8,326.2 L280.4,326.2 L281.0,326.2 L281.6,326.2 L282.2,326.2 L282.8,326.2 L283.4,326.2 L284.0,326.2 L284.6,326.2 L285.2,326.2 L285.8,326.3 L286.4,326.3 L287.0,326.3 L287.6,326.3 L288.2,326.3 L288.8,326.3 L289.4,326.3 L290.0,326.3 L290.6,326.3 L291.2,326.3 L291.8,326.3 L292.4,326.3 L293.0,326.3 L293.6,326.3 L294.2,326.3 L294.8,326.3 L295.4,326.3 L296.0,326.3 L296.6,326.4 L297.2,326.4 L297.8,326.4 L298.4,326.4 L299.0,326.4 L299.6,326.4 L300.2,326.4 L300.8,326.4 L301.4,326.4 L302.0,326.4 L302.6,326.4 L303.2,326.4 L303.8,326.4 L304.4,326.4 L305.0,326.4 L305.6,326.4 L306.2,326.4 L306.8,326.4 L307.4,326.4 L308.0,326.4 L308.6,326.4 L309.2,326.4 L309.8,326.4 L310.4,326.4 L311.0,326.4 L311.6,326.4 L312.2,326.4 L312.8,326.4 L313.4,326.4 L314.0,326.4 L314.6,326.4 L315.2,326.4 L315.8,326.4 L316.4,326.4 L317.0,326.4 L317.6,326.4 L318.2,326.4 L318.8,326.4 L319.4,326.4 L320.0,326.4 L320.6,326.4 L321.2,326.4 L321.8,326.4 L322.4,326.4 L323.0,326.4 L323.6,326.4 L324.2,326.4 L324.8,326.4 L325.4,326.4 L326.0,326.4 L326.6,326.4 L327.2,326.4 L327.8,326.4 L328.4,326.4 L329.0,326.4 L329.6,326.4 L330.2,326.4 L330.8,326.4 L331.4,326.4 L332.0,326.4 L332.6,326.4 L333.2,326.4 L333.8,326.4 L334.4,326.4 L335.0,326.4 L335.6,326.4 L336.2,326.4 L336.8,326.4 L337.4,326.4 L338.0,326.4 L338.6,326.4 L339.2,326.4 L339.8,326.4 L340.4,326.4 L341.0,326.4 L341.6,326.4 L342.2,326.4 L342.8,326.4 L343.4,326.4 L344.0,326.4 L344.6,326.4 L345.2,326.4 L345.8,326.4 L346.4,326.4 L347.0,326.4 L347.6,326.4 L348.2,326.4 L348.8,326.4 L349.4,326.4 L350.0,326.4 L350.6,326.4 L351.2,326.4 L351.8,326.4 L352.4,326.4 L353.0,326.4 L353.6,326.4 L354.2,326.4 L354.8,326.4 L355.4,326.4 L356.0,326.4 L356.6,326.4 L357.2,326.4 L357.8,326.4 L358.4,326.4 L359.0,326.4 L359.6,326.4 L360.2,326.4 L360.8,326.4 L361.4,326.4 L362.0,326.4 L362.6,326.4 L363.2,326.4 L363.8,326.4 L364.4,326.5 L365.0,327.2 L365.6,327.8 L366.2,328.0 L366.8,328.0 L367.4,328.0 L368.0,328.0 L368.6,328.0 L369.2,328.0 L369.8,328.0 L370.4,328.0 L371.0,328.0 L371.6,328.0 L372.2,328.0 L372.8,328.0 L373.4,328.0 L374.0,328.0 L374.6,328.0 L375.2,328.0 L375.8,328.0 L376.4,328.0 L377.0,328.0" stroke="#869494" stroke-width="1.25"/>
<path d="M103.4,98.0 L104.0,103.6 L104.6,108.9 L105.2,113.9 L105.8,118.4 L106.4,122.3 L107.0,126.0 L107.6,129.5 L108.2,132.7 L108.8,135.6 L109.4,138.1 L110.0,140.2 L110.6,142.3 L111.2,144.2 L111.8,145.8 L112.4,147.2 L113.0,148.2 L113.6,148.9 L114.2,149.7 L114.8,150.2 L115.4,150.6 L116.0,150.6 L116.6,150.4 L117.2,149.9 L117.8,149.3 L118.4,148.5 L119.0,147.6 L119.6,146.6 L120.2,145.6 L120.8,144.5 L121.4,143.1 L122.0,141.4 L122.6,139.7 L123.2,137.8 L123.8,136.0 L124.4,134.2 L125.0,132.3 L125.6,130.3 L126.2,128.3 L126.8,126.3 L127.4,124.6 L128.0,122.9 L128.6,121.3 L129.2,119.8 L129.8,118.3 L130.4,116.8 L131.0,115.5 L131.6,114.2 L132.2,112.9 L132.8,111.8 L133.4,110.7 L134.0,109.6 L134.6,108.6 L135.2,107.6 L135.8,106.7 L136.4,105.8 L137.0,105.1 L137.6,104.5 L138.2,103.9 L138.8,103.3 L139.4,102.8 L140.0,102.2 L140.6,101.7 L141.2,101.3 L141.8,101.0 L142.4,100.8 L143.0,100.8 L143.6,100.9 L144.2,101.3 L144.8,101.8 L145.4,102.5 L146.0,103.3 L146.6,104.2 L147.2,105.1 L147.8,106.0 L148.4,107.0 L149.0,108.2 L149.6,109.6 L150.2,111.1 L150.8,112.7 L151.4,114.4 L152.0,116.3 L152.6,118.4 L153.2,120.6 L153.8,122.9 L154.4,125.3 L155.0,127.7 L155.6,130.1 L156.2,132.6 L156.8,135.2 L157.4,137.8 L158.0,140.5 L158.6,143.2 L159.2,146.1 L159.8,149.1 L160.4,152.1 L161.0,155.0 L161.6,157.7 L162.2,160.2 L162.8,162.3 L163.4,164.3 L164.0,166.1 L164.6,168.0 L165.2,170.0 L165.8,172.4 L166.4,175.2 L167.0,178.4 L167.6,181.6 L168.2,184.6 L168.8,187.2 L169.4,189.7 L170.0,192.2 L170.6,194.5 L171.2,196.7 L171.8,198.8 L172.4,200.9 L173.0,202.8 L173.6,204.7 L174.2,206.6 L174.8,208.3 L175.4,210.1 L176.0,211.8 L176.6,213.4 L177.2,215.0 L177.8,216.5 L178.4,218.0 L179.0,219.5 L179.6,220.9 L180.2,222.3 L180.8,223.8 L181.4,225.3 L182.0,226.7 L182.6,228.2 L183.2,229.7 L183.8,231.1 L184.4,232.6 L185.0,234.1 L185.6,235.6 L186.2,237.2 L186.8,238.7 L187.4,240.4 L188.0,242.0 L188.6,243.6 L189.2,245.2 L189.8,246.8 L190.4,248.3 L191.0,249.9 L191.6,251.5 L192.2,253.0 L192.8,254.3 L193.4,255.5 L194.0,256.5 L194.6,257.5 L195.2,258.4 L195.8,259.2 L196.4,260.0 L197.0,260.6 L197.6,261.3 L198.2,261.8 L198.8,262.4 L199.4,262.9 L200.0,263.4 L200.6,263.8 L201.2,264.1 L201.8,264.4 L202.4,264.7 L203.0,264.9 L203.6,265.2 L204.2,265.4 L204.8,265.6 L205.4,265.8 L206.0,265.9 L206.6,266.1 L207.2,266.2 L207.8,266.4 L208.4,266.5 L209.0,266.6 L209.6,266.7 L210.2,266.8 L210.8,266.9 L211.4,267.0 L212.0,267.1 L212.6,267.2 L213.2,267.3 L213.8,267.4 L214.4,267.5 L215.0,267.7 L215.6,267.9 L216.2,268.1 L216.8,268.4 L217.4,268.6 L218.0,269.0 L218.6,269.3 L219.2,269.7 L219.8,270.1 L220.4,270.5 L221.0,271.0 L221.6,271.6 L222.2,272.3 L222.8,273.0 L223.4,273.8 L224.0,274.6 L224.6,275.4 L225.2,276.3 L225.8,277.3 L226.4,278.5 L227.0,279.7 L227.6,281.0 L228.2,282.3 L228.8,283.6 L229.4,284.8 L230.0,286.0 L230.6,287.2 L231.2,288.3 L231.8,289.5 L232.4,290.7 L233.0,291.9 L233.6,293.1 L234.2,294.3 L234.8,295.6 L235.4,296.8 L236.0,298.0 L236.6,299.2 L237.2,300.3 L237.8,301.3 L238.4,302.3 L239.0,303.3 L239.6,304.3 L240.2,305.2 L240.8,306.1 L241.4,306.9 L242.0,307.7 L242.6,308.5 L243.2,309.3 L243.8,310.1 L244.4,310.8 L245.0,311.5 L245.6,312.2 L246.2,312.9 L246.8,313.5 L247.4,314.2 L248.0,314.8 L248.6,315.4 L249.2,316.0 L249.8,316.6 L250.4,317.1 L251.0,317.6 L251.6,318.1 L252.2,318.6 L252.8,319.0 L253.4,319.4 L254.0,319.8 L254.6,320.2 L255.2,320.6 L255.8,320.9 L256.4,321.2 L257.0,321.6 L257.6,321.9 L258.2,322.2 L258.8,322.5 L259.4,322.8 L260.0,323.0 L260.6,323.3 L261.2,323.5 L261.8,323.7 L262.4,323.9 L263.0,324.0 L263.6,324.2 L264.2,324.3 L264.8,324.5 L265.4,324.6 L266.0,324.7 L266.6,324.9 L267.2,325.0 L267.8,325.1 L268.4,325.2 L269.0,325.2 L269.6,325.3 L270.2,325.4 L270.8,325.4 L271.4,325.5 L272.0,325.6 L272.6,325.6 L273.2,325.7 L273.8,325.7 L274.4,325.8 L275.0,325.8 L275.6,325.9 L276.2,325.9 L276.8,326.0 L277.4,326.0 L278.0,326.0 L278.6,326.1 L279.2,326.1 L279.8,326.1 L280.4,326.1 L281.0,326.1 L281.6,326.1 L282.2,326.2 L282.8,326.2 L283.4,326.2 L284.0,326.2 L284.6,326.2 L285.2,326.2 L285.8,326.2 L286.4,326.2 L287.0,326.2 L287.6,326.2 L288.2,326.2 L288.8,326.3 L289.4,326.3 L290.0,326.3 L290.6,326.3 L291.2,326.3 L291.8,326.3 L292.4,326.3 L293.0,326.3 L293.6,326.3 L294.2,326.3 L294.8,326.3 L295.4,326.3 L296.0,326.3 L296.6,326.3 L297.2,326.3 L297.8,326.3 L298.4,326.3 L299.0,326.3 L299.6,326.3 L300.2,326.3 L300.8,326.3 L301.4,326.3 L302.0,326.3 L302.6,326.3 L303.2,326.3 L303.8,326.3 L304.4,326.3 L305.0,326.3 L305.6,326.3 L306.2,326.3 L306.8,326.3 L307.4,326.3 L308.0,326.3 L308.6,326.3 L309.2,326.3 L309.8,326.3 L310.4,326.3 L311.0,326.3 L311.6,326.3 L312.2,326.3 L312.8,326.3 L313.4,326.3 L314.0,326.3 L314.6,326.3 L315.2,326.3 L315.8,326.3 L316.4,326.3 L317.0,326.3 L317.6,326.3 L318.2,326.3 L318.8,326.3 L319.4,326.3 L320.0,326.3 L320.6,326.3 L321.2,326.3 L321.8,326.3 L322.4,326.3 L323.0,326.3 L323.6,326.3 L324.2,326.3 L324.8,326.3 L325.4,326.3 L326.0,326.3 L326.6,326.3 L327.2,326.3 L327.8,326.3 L328.4,326.3 L329.0,326.3 L329.6,326.3 L330.2,326.3 L330.8,326.3 L331.4,326.3 L332.0,326.3 L332.6,326.3 L333.2,326.3 L333.8,326.3 L334.4,326.3 L335.0,326.3 L335.6,326.3 L336.2,326.3 L336.8,326.3 L337.4,326.3 L338.0,326.3 L338.6,326.3 L339.2,326.3 L339.8,326.3 L340.4,326.3 L341.0,326.3 L341.6,326.3 L342.2,326.3 L342.8,326.3 L343.4,326.3 L344.0,326.3 L344.6,326.3 L345.2,326.3 L345.8,326.3 L346.4,326.3 L347.0,326.3 L347.6,326.3 L348.2,326.3 L348.8,326.3 L349.4,326.3 L350.0,326.3 L350.6,326.3 L351.2,326.3 L351.8,326.3 L352.4,326.3 L353.0,326.3 L353.6,326.3 L354.2,326.3 L354.8,326.3 L355.4,326.3 L356.0,326.3 L356.6,326.3 L357.2,326.3 L357.8,326.3 L358.4,326.3 L359.0,326.3 L359.6,326.3 L360.2,326.3 L360.8,326.3 L361.4,326.3 L362.0,326.3 L362.6,326.3 L363.2,326.3 L363.8,326.3 L364.4,326.5 L365.0,327.2 L365.6,327.8 L366.2,328.0 L366.8,328.0 L367.4,328.0 L368.0,328.0 L368.6,328.0 L369.2,328.0 L369.8,328.0 L370.4,328.0 L371.0,328.0 L371.6,328.0 L372.2,328.0 L372.8,328.0 L373.4,328.0 L374.0,328.0 L374.6,328.0 L375.2,328.0 L375.8,328.0 L376.4,328.0 L377.0,328.0" stroke="#869494" stroke-width="1.25"/>
<path d="M103.4,158.8 L104.0,158.8 L104.6,158.8 L105.2,158.8 L105.8,158.7 L106.4,158.7 L107.0,158.6 L107.6,158.6 L108.2,158.5 L108.8,158.4 L109.4,157.5 L110.0,155.6 L110.6,153.0 L111.2,150.5 L111.8,148.0 L112.4,145.1 L113.0,142.0 L113.6,138.8 L114.2,135.7 L114.8,132.7 L115.4,129.8 L116.0,126.9 L116.6,124.1 L117.2,121.3 L117.8,118.6 L118.4,116.0 L119.0,113.5 L119.6,110.9 L120.2,108.5 L120.8,106.1 L121.4,104.0 L122.0,102.2 L122.6,100.7 L123.2,99.1 L123.8,97.8 L124.4,97.1 L125.0,97.4 L125.6,98.9 L126.2,101.2 L126.8,103.8 L127.4,107.5 L128.0,111.9 L128.6,116.0 L129.2,119.5 L129.8,122.9 L130.4,126.1 L131.0,129.3 L131.6,132.5 L132.2,135.6 L132.8,138.9 L133.4,142.3 L134.0,145.7 L134.6,148.9 L135.2,151.7 L135.8,154.2 L136.4,156.3 L137.0,158.3 L137.6,160.0 L138.2,161.7 L138.8,163.2 L139.4,164.6 L140.0,165.8 L140.6,166.9 L141.2,168.0 L141.8,168.9 L142.4,169.9 L143.0,170.9 L143.6,172.0 L144.2,173.2 L144.8,174.4 L145.4,175.7 L146.0,177.0 L146.6,178.3 L147.2,179.7 L147.8,181.1 L148.4,182.5 L149.0,184.0 L149.6,185.6 L150.2,187.3 L150.8,189.1 L151.4,190.9 L152.0,192.8 L152.6,194.7 L153.2,196.5 L153.8,198.3 L154.4,200.1 L155.0,201.8 L155.6,203.6 L156.2,205.4 L156.8,207.1 L157.4,208.8 L158.0,210.3 L158.6,211.8 L159.2,213.2 L159.8,214.5 L160.4,215.8 L161.0,217.0 L161.6,218.2 L162.2,219.3 L162.8,220.4 L163.4,221.3 L164.0,222.2 L164.6,223.0 L165.2,223.9 L165.8,224.7 L166.4,225.4 L167.0,226.1 L167.6,226.8 L168.2,227.4 L168.8,228.0 L169.4,228.5 L170.0,229.0 L170.6,229.4 L171.2,229.7 L171.8,230.1 L172.4,230.4 L173.0,230.8 L173.6,231.3 L174.2,231.8 L174.8,232.3 L175.4,232.9 L176.0,233.6 L176.6,234.3 L177.2,235.1 L177.8,235.9 L178.4,236.7 L179.0,237.6 L179.6,238.5 L180.2,239.6 L180.8,240.7 L181.4,241.9 L182.0,243.1 L182.6,244.4 L183.2,245.7 L183.8,247.1 L184.4,248.4 L185.0,249.8 L185.6,251.2 L186.2,252.6 L186.8,254.1 L187.4,255.6 L188.0,257.1 L188.6,258.6 L189.2,260.2 L189.8,261.8 L190.4,263.4 L191.0,265.0 L191.6,266.7 L192.2,268.4 L192.8,270.1 L193.4,271.8 L194.0,273.4 L194.6,275.1 L195.2,276.7 L195.8,278.4 L196.4,280.0 L197.0,281.6 L197.6,283.2 L198.2,284.7 L198.8,286.2 L199.4,287.5 L200.0,288.9 L200.6,290.2 L201.2,291.4 L201.8,292.6 L202.4,293.6 L203.0,294.6 L203.6,295.5 L204.2,296.4 L204.8,297.2 L205.4,298.0 L206.0,298.8 L206.6,299.5 L207.2,300.1 L207.8,300.7 L208.4,301.3 L209.0,301.8 L209.6,302.3 L210.2,302.7 L210.8,303.2 L211.4,303.6 L212.0,304.0 L212.6,304.4 L213.2,304.7 L213.8,305.1 L214.4,305.4 L215.0,305.7 L215.6,306.0 L216.2,306.3 L216.8,306.6 L217.4,306.8 L218.0,307.1 L218.6,307.4 L219.2,307.7 L219.8,308.0 L220.4,308.3 L221.0,308.5 L221.6,308.8 L222.2,309.1 L222.8,309.4 L223.4,309.8 L224.0,310.1 L224.6,310.5 L225.2,311.0 L225.8,311.4 L226.4,311.9 L227.0,312.4 L227.6,312.9 L228.2,313.4 L228.8,313.8 L229.4,314.3 L230.0,314.7 L230.6,315.2 L231.2,315.6 L231.8,316.1 L232.4,316.5 L233.0,316.9 L233.6,317.4 L234.2,317.8 L234.8,318.3 L235.4,318.8 L236.0,319.2 L236.6,319.7 L237.2,320.2 L237.8,320.7 L238.4,321.1 L239.0,321.5 L239.6,321.9 L240.2,322.3 L240.8,322.6 L241.4,322.9 L242.0,323.2 L242.6,323.5 L243.2,323.8 L243.8,324.1 L244.4,324.3 L245.0,324.6 L245.6,324.8 L246.2,325.0 L246.8,325.2 L247.4,325.5 L248.0,325.7 L248.6,325.9 L249.2,326.0 L249.8,326.2 L250.4,326.4 L251.0,326.5 L251.6,326.6 L252.2,326.8 L252.8,326.9 L253.4,327.0 L254.0,327.1 L254.6,327.2 L255.2,327.3 L255.8,327.4 L256.4,327.5 L257.0,327.6 L257.6,327.7 L258.2,327.8 L258.8,327.9 L259.4,327.9 L260.0,328.0 L260.6,328.0 L261.2,328.1 L261.8,328.2 L262.4,328.2 L263.0,328.3 L263.6,328.3 L264.2,328.4 L264.8,328.4 L265.4,328.5 L266.0,328.5 L266.6,328.6 L267.2,328.6 L267.8,328.6 L268.4,328.7 L269.0,328.7 L269.6,328.7 L270.2,328.7 L270.8,328.7 L271.4,328.7 L272.0,328.7 L272.6,328.8 L273.2,328.8 L273.8,328.8 L274.4,328.8 L275.0,328.8 L275.6,328.8 L276.2,328.8 L276.8,328.8 L277.4,328.8 L278.0,328.8 L278.6,328.9 L279.2,328.9 L279.8,328.9 L280.4,328.9 L281.0,328.9 L281.6,328.9 L282.2,328.9 L282.8,328.9 L283.4,328.9 L284.0,328.9 L284.6,328.9 L285.2,328.9 L285.8,328.9 L286.4,328.9 L287.0,328.9 L287.6,329.0 L288.2,329.0 L288.8,329.0 L289.4,329.0 L290.0,329.0 L290.6,329.0 L291.2,329.0 L291.8,329.0 L292.4,329.0 L293.0,329.0 L293.6,329.0 L294.2,329.0 L294.8,329.0 L295.4,329.0 L296.0,329.0 L296.6,329.0 L297.2,329.0 L297.8,329.0 L298.4,329.0 L299.0,329.0 L299.6,329.0 L300.2,329.0 L300.8,329.0 L301.4,329.0 L302.0,329.0 L302.6,329.0 L303.2,329.0 L303.8,329.0 L304.4,329.0 L305.0,329.0 L305.6,329.0 L306.2,329.0 L306.8,329.0 L307.4,329.0 L308.0,329.0 L308.6,329.0 L309.2,329.0 L309.8,329.0 L310.4,329.0 L311.0,329.0 L311.6,329.0 L312.2,329.0 L312.8,329.0 L313.4,329.0 L314.0,329.0 L314.6,329.0 L315.2,329.0 L315.8,329.0 L316.4,329.0 L317.0,329.0 L317.6,329.0 L318.2,329.0 L318.8,329.0 L319.4,329.0 L320.0,329.0 L320.6,329.0 L321.2,329.0 L321.8,329.0 L322.4,329.0 L323.0,329.0 L323.6,329.0 L324.2,329.0 L324.8,329.0 L325.4,329.0 L326.0,329.0 L326.6,329.0 L327.2,329.0 L327.8,329.0 L328.4,329.0 L329.0,329.0 L329.6,329.0 L330.2,329.0 L330.8,329.0 L331.4,329.0 L332.0,329.0 L332.6,329.0 L333.2,329.0 L333.8,329.0 L334.4,329.0 L335.0,329.0 L335.6,329.0 L336.2,329.0 L336.8,329.0 L337.4,329.0 L338.0,329.0 L338.6,329.0 L339.2,329.0 L339.8,329.0 L340.4,329.0 L341.0,329.0 L341.6,329.0 L342.2,329.0 L342.8,329.0 L343.4,329.0 L344.0,329.0 L344.6,329.0 L345.2,329.0 L345.8,329.0 L346.4,329.0 L347.0,329.0 L347.6,329.0 L348.2,329.0 L348.8,329.0 L349.4,329.0 L350.0,329.0 L350.6,329.0 L351.2,329.0 L351.8,329.0 L352.4,329.0 L353.0,329.0 L353.6,329.0 L354.2,329.0 L354.8,329.0 L355.4,329.0 L356.0,329.0 L356.6,329.0 L357.2,329.0 L357.8,329.0 L358.4,329.0 L359.0,329.0 L359.6,329.0 L360.2,329.0 L360.8,329.0 L361.4,329.0 L362.0,329.0 L362.6,329.0 L363.2,329.0 L363.8,329.0 L364.4,329.0 L365.0,329.0 L365.6,329.0 L366.2,329.0 L366.8,329.0 L367.4,329.0 L368.0,329.0 L368.6,329.0 L369.2,329.0 L369.8,329.0 L370.4,329.0 L371.0,329.0 L371.6,329.0 L372.2,329.0 L372.8,329.0 L373.4,329.0 L374.0,329.0 L374.6,329.0 L375.2,329.0 L375.8,329.0 L376.4,329.0 L377.0,329.0" stroke="#000" stroke-width="2.5" stroke-linejoin="miter"/>
<path d="M103.4,97.6 L104.0,103.3 L104.6,108.6 L105.2,113.6 L105.8,118.1 L106.4,122.1 L107.0,125.8 L107.6,129.3 L108.2,132.5 L108.8,135.4 L109.4,137.9 L110.0,140.1 L110.6,142.2 L111.2,144.1 L111.8,145.8 L112.4,147.2 L113.0,148.2 L113.6,149.0 L114.2,149.8 L114.8,150.4 L115.4,150.7 L116.0,150.8 L116.6,150.6 L117.2,150.1 L117.8,149.5 L118.4,148.7 L119.0,147.8 L119.6,146.9 L120.2,145.9 L120.8,144.8 L121.4,143.3 L122.0,141.7 L122.6,139.9 L123.2,138.1 L123.8,136.3 L124.4,134.5 L125.0,132.5 L125.6,130.5 L126.2,128.4 L126.8,126.5 L127.4,124.7 L128.0,123.0 L128.6,121.4 L129.2,119.8 L129.8,118.2 L130.4,116.8 L131.0,115.4 L131.6,114.0 L132.2,112.8 L132.8,111.6 L133.4,110.5 L134.0,109.4 L134.6,108.3 L135.2,107.3 L135.8,106.4 L136.4,105.5 L137.0,104.7 L137.6,104.1 L138.2,103.5 L138.8,102.9 L139.4,102.3 L140.0,101.8 L140.6,101.3 L141.2,100.9 L141.8,100.6 L142.4,100.4 L143.0,100.3 L143.6,100.4 L144.2,100.8 L144.8,101.3 L145.4,102.0 L146.0,102.8 L146.6,103.7 L147.2,104.6 L147.8,105.5 L148.4,106.5 L149.0,107.7 L149.6,109.1 L150.2,110.6 L150.8,112.2 L151.4,113.9 L152.0,115.8 L152.6,117.8 L153.2,120.1 L153.8,122.4 L154.4,124.8 L155.0,127.2 L155.6,129.6 L156.2,132.1 L156.8,134.7 L157.4,137.4 L158.0,140.0 L158.6,142.8 L159.2,145.6 L159.8,148.6 L160.4,151.6 L161.0,154.6 L161.6,157.3 L162.2,159.8 L162.8,161.9 L163.4,163.9 L164.0,165.7 L164.6,167.6 L165.2,169.7 L165.8,172.0 L166.4,174.8 L167.0,178.0 L167.6,181.3 L168.2,184.3 L168.8,187.0 L169.4,189.5 L170.0,191.9 L170.6,194.2 L171.2,196.5 L171.8,198.6 L172.4,200.6 L173.0,202.6 L173.6,204.5 L174.2,206.4 L174.8,208.2 L175.4,209.9 L176.0,211.6 L176.6,213.3 L177.2,214.9 L177.8,216.4 L178.4,217.9 L179.0,219.3 L179.6,220.8 L180.2,222.2 L180.8,223.7 L181.4,225.1 L182.0,226.6 L182.6,228.1 L183.2,229.6 L183.8,231.0 L184.4,232.5 L185.0,234.0 L185.6,235.5 L186.2,237.1 L186.8,238.6 L187.4,240.3 L188.0,241.9 L188.6,243.5 L189.2,245.1 L189.8,246.7 L190.4,248.2 L191.0,249.8 L191.6,251.4 L192.2,252.9 L192.8,254.2 L193.4,255.4 L194.0,256.4 L194.6,257.4 L195.2,258.3 L195.8,259.1 L196.4,259.8 L197.0,260.5 L197.6,261.1 L198.2,261.7 L198.8,262.2 L199.4,262.7 L200.0,263.2 L200.6,263.6 L201.2,264.0 L201.8,264.2 L202.4,264.5 L203.0,264.7 L203.6,265.0 L204.2,265.2 L204.8,265.4 L205.4,265.5 L206.0,265.7 L206.6,265.9 L207.2,266.0 L207.8,266.2 L208.4,266.3 L209.0,266.4 L209.6,266.5 L210.2,266.6 L210.8,266.7 L211.4,266.7 L212.0,266.8 L212.6,266.9 L213.2,267.0 L213.8,267.1 L214.4,267.3 L215.0,267.4 L215.6,267.6 L216.2,267.8 L216.8,268.1 L217.4,268.4 L218.0,268.7 L218.6,269.1 L219.2,269.4 L219.8,269.8 L220.4,270.3 L221.0,270.8 L221.6,271.4 L222.2,272.0 L222.8,272.7 L223.4,273.5 L224.0,274.3 L224.6,275.2 L225.2,276.1 L225.8,277.1 L226.4,278.2 L227.0,279.5 L227.6,280.8 L228.2,282.1 L228.8,283.4 L229.4,284.6 L230.0,285.8 L230.6,287.0 L231.2,288.1 L231.8,289.3 L232.4,290.5 L233.0,291.7 L233.6,292.9 L234.2,294.2 L234.8,295.4 L235.4,296.7 L236.0,297.9 L236.6,299.0 L237.2,300.1 L237.8,301.2 L238.4,302.2 L239.0,303.2 L239.6,304.2 L240.2,305.1 L240.8,306.0 L241.4,306.8 L242.0,307.6 L242.6,308.4 L243.2,309.2 L243.8,310.0 L244.4,310.7 L245.0,311.4 L245.6,312.1 L246.2,312.8 L246.8,313.5 L247.4,314.1 L248.0,314.7 L248.6,315.4 L249.2,316.0 L249.8,316.5 L250.4,317.1 L251.0,317.6 L251.6,318.1 L252.2,318.5 L252.8,318.9 L253.4,319.4 L254.0,319.8 L254.6,320.1 L255.2,320.5 L255.8,320.9 L256.4,321.2 L257.0,321.5 L257.6,321.8 L258.2,322.1 L258.8,322.4 L259.4,322.7 L260.0,323.0 L260.6,323.3 L261.2,323.5 L261.8,323.7 L262.4,323.8 L263.0,324.0 L263.6,324.2 L264.2,324.3 L264.8,324.5 L265.4,324.6 L266.0,324.7 L266.6,324.8 L267.2,324.9 L267.8,325.0 L268.4,325.1 L269.0,325.2 L269.6,325.3 L270.2,325.4 L270.8,325.4 L271.4,325.5 L272.0,325.6 L272.6,325.6 L273.2,325.7 L273.8,325.7 L274.4,325.8 L275.0,325.8 L275.6,325.9 L276.2,325.9 L276.8,326.0 L277.4,326.0 L278.0,326.0 L278.6,326.1 L279.2,326.1 L279.8,326.1 L280.4,326.1 L281.0,326.1 L281.6,326.1 L282.2,326.1 L282.8,326.1 L283.4,326.2 L284.0,326.2 L284.6,326.2 L285.2,326.2 L285.8,326.2 L286.4,326.2 L287.0,326.2 L287.6,326.2 L288.2,326.2 L288.8,326.2 L289.4,326.2 L290.0,326.2 L290.6,326.3 L291.2,326.3 L291.8,326.3 L292.4,326.3 L293.0,326.3 L293.6,326.3 L294.2,326.3 L294.8,326.3 L295.4,326.3 L296.0,326.3 L296.6,326.3 L297.2,326.3 L297.8,326.3 L298.4,326.3 L299.0,326.3 L299.6,326.3 L300.2,326.3 L300.8,326.3 L301.4,326.3 L302.0,326.3 L302.6,326.3 L303.2,326.3 L303.8,326.3 L304.4,326.3 L305.0,326.3 L305.6,326.3 L306.2,326.3 L306.8,326.3 L307.4,326.3 L308.0,326.3 L308.6,326.3 L309.2,326.3 L309.8,326.3 L310.4,326.3 L311.0,326.3 L311.6,326.3 L312.2,326.3 L312.8,326.3 L313.4,326.3 L314.0,326.3 L314.6,326.3 L315.2,326.3 L315.8,326.3 L316.4,326.3 L317.0,326.3 L317.6,326.3 L318.2,326.3 L318.8,326.3 L319.4,326.3 L320.0,326.3 L320.6,326.3 L321.2,326.3 L321.8,326.3 L322.4,326.3 L323.0,326.3 L323.6,326.3 L324.2,326.3 L324.8,326.3 L325.4,326.3 L326.0,326.3 L326.6,326.3 L327.2,326.3 L327.8,326.3 L328.4,326.3 L329.0,326.3 L329.6,326.3 L330.2,326.3 L330.8,326.3 L331.4,326.3 L332.0,326.3 L332.6,326.3 L333.2,326.3 L333.8,326.3 L334.4,326.3 L335.0,326.3 L335.6,326.3 L336.2,326.3 L336.8,326.3 L337.4,326.3 L338.0,326.3 L338.6,326.3 L339.2,326.3 L339.8,326.3 L340.4,326.3 L341.0,326.3 L341.6,326.3 L342.2,326.3 L342.8,326.3 L343.4,326.3 L344.0,326.3 L344.6,326.3 L345.2,326.3 L345.8,326.3 L346.4,326.3 L347.0,326.3 L347.6,326.3 L348.2,326.3 L348.8,326.3 L349.4,326.3 L350.0,326.3 L350.6,326.3 L351.2,326.3 L351.8,326.3 L352.4,326.3 L353.0,326.3 L353.6,326.3 L354.2,326.3 L354.8,326.3 L355.4,326.3 L356.0,326.3 L356.6,326.3 L357.2,326.3 L357.8,326.3 L358.4,326.3 L359.0,326.3 L359.6,326.3 L360.2,326.3 L360.8,326.3 L361.4,326.3 L362.0,326.3 L362.6,326.3 L363.2,326.3 L363.8,326.3 L364.4,326.5 L365.0,327.1 L365.6,327.8 L366.2,328.0 L366.8,328.0 L367.4,328.0 L368.0,328.0 L368.6,328.0 L369.2,328.0 L369.8,328.0 L370.4,328.0 L371.0,328.0 L371.6,328.0 L372.2,328.0 L372.8,328.0 L373.4,328.0 L374.0,328.0 L374.6,328.0 L375.2,328.0 L375.8,328.0 L376.4,328.0 L377.0,328.0" stroke="#fb0a16" stroke-width="2.5"/>
</g>
<rect x="240" y="6.5" width="134.3" height="132" fill="#fff"/>
<g stroke="#000" stroke-width="2.4" fill="none">
<path d="M239,5.0 V140 M231,140 H375.8"/>
<path d="M231.5,47.7 H239"/>
<path d="M231.5,95 H239"/>
<path d="M241.6,140 V149.5"/>
<path d="M280.9,140 V149.5"/>
<path d="M321.4,140 V149.5"/>
<path d="M359.8,140 V149.5"/>
</g>
<g stroke="#000" stroke-width="1.35" fill="#fff">
<circle cx="242.5" cy="125.4" r="3.7"/>
<circle cx="249.4" cy="94.3" r="3.7"/>
<circle cx="254" cy="76.3" r="3.7"/>
<circle cx="259.4" cy="66.3" r="3.7"/>
<circle cx="264.8" cy="57.7" r="3.7"/>
<circle cx="270.1" cy="52.7" r="3.7"/>
<circle cx="275.9" cy="48.4" r="3.7"/>
<circle cx="281.3" cy="44.4" r="3.7"/>
<circle cx="286.6" cy="41.2" r="3.7"/>
<circle cx="292" cy="38" r="3.7"/>
<circle cx="297.4" cy="35.8" r="3.7"/>
<circle cx="302.8" cy="33.7" r="3.7"/>
<circle cx="308.1" cy="32.3" r="3.7"/>
<circle cx="314.2" cy="30.5" r="3.7"/>
<circle cx="319.6" cy="29.4" r="3.7"/>
<circle cx="325" cy="28.7" r="3.7"/>
<circle cx="330.4" cy="28" r="3.7"/>
<circle cx="336.1" cy="27.6" r="3.7"/>
<circle cx="341.8" cy="27.2" r="3.7"/>
<circle cx="347.6" cy="26.9" r="3.7"/>
<circle cx="353" cy="26.5" r="3.7"/>
<circle cx="358.3" cy="26.5" r="3.7"/>
<circle cx="363.7" cy="26.5" r="3.7"/>
<circle cx="369" cy="26.5" r="3.7"/>
</g>
<g stroke="#000" stroke-width="3.1" fill="#000">
<path d="M144.1,98.5 V60"/><path d="M142.7,55.4 H145.9 L147.3,66.2 H140.3 Z" stroke="none"/>
<path d="M214.6,263 V226"/><path d="M213,220.4 H216.2 L218.9,231.8 H210.3 Z" stroke="none"/>
</g>
<g stroke="#000" stroke-width="0.5">
<text x="2.3" y="23.8" font-size="29.5">(a)</text>
<text x="84" y="87.5" font-size="23" text-anchor="end">3.0</text>
<text x="84" y="170.3" font-size="23" text-anchor="end">2.0</text>
<text x="84" y="254" font-size="23" text-anchor="end">1.0</text>
<text x="84" y="337.8" font-size="23" text-anchor="end">0.0</text>
<text x="138.3" y="371.5" font-size="23.3" text-anchor="middle">300</text>
<text x="205.8" y="371.5" font-size="23.3" text-anchor="middle">400</text>
<text x="273.5" y="371.5" font-size="23.3" text-anchor="middle">500</text>
<text x="341.3" y="371.5" font-size="23.3" text-anchor="middle">600</text>
<text x="239" y="409.3" font-size="31" text-anchor="middle">Wavelength, nm</text>
<text transform="translate(29,167.5) rotate(-90)" font-size="31" text-anchor="middle">Absorbance</text>
<text transform="translate(192.3,74.5) rotate(-90)" font-size="19.5" text-anchor="middle" textLength="134" lengthAdjust="spacingAndGlyphs">Abs. at 419 nm</text>
<text x="198.3" y="54.6" font-size="19.5" textLength="24.6" lengthAdjust="spacingAndGlyphs">0.6</text>
<text x="198.3" y="101.9" font-size="19.5" textLength="24.6" lengthAdjust="spacingAndGlyphs">0.4</text>
<text x="198.3" y="145.9" font-size="19.5" textLength="24.6" lengthAdjust="spacingAndGlyphs">0.2</text>
<text transform="translate(241.6,173) scale(0.95,1.02)" font-size="17.5" text-anchor="middle">0</text>
<text transform="translate(280.9,173) scale(0.95,1.02)" font-size="17.5" text-anchor="middle">50</text>
<text transform="translate(321.4,173) scale(0.95,1.02)" font-size="17.5" text-anchor="middle">100</text>
<text transform="translate(360.3,173) scale(0.95,1.02)" font-size="17.5" text-anchor="middle">150</text>
<text x="307" y="193" font-size="18.5" text-anchor="middle">Time, s</text>
</g>
<g fill="#fb0a16" stroke="#fb0a16" stroke-width="0.6">
<text x="141.6" y="49.2" font-size="23.6" text-anchor="middle">306</text>
<text x="212.2" y="215" font-size="23.6" text-anchor="middle">419</text>
</g>
<g stroke="#000" stroke-width="3" fill="none">
<path d="M498.4,3.4 H770.4 V329.9 H498.4 Z"/>
</g><g stroke="#000" stroke-width="2.6" fill="none">
<path d="M494,83.6 H498.4"/>
<path d="M494,165.6 H498.4"/>
<path d="M494,247.5 H498.4"/>
<path d="M494,329.9 H498.4"/>
<path d="M498.4,329.9 V339.5"/>
<path d="M606.8,329.9 V339.5"/>
<path d="M715.8,329.9 V339.5"/>
<path d="M498.4,329.9 L770.4,6.5" stroke-width="3"/>
</g>
<g stroke="#000" stroke-width="1.4" fill="#000">
<ellipse cx="498.2" cy="330" rx="5.2" ry="4.1" stroke="none"/>
<path d="M553.4,244.5 V276.9 M549.6,244.5 H557.2 M549.6,276.9 H557.2"/>
<ellipse cx="553" cy="259.4" rx="5.2" ry="4.1" stroke="none"/>
<path d="M607.1999999999999,186.6 V219.3 M603.4,186.6 H611.0 M603.4,219.3 H611.0"/>
<ellipse cx="606.8" cy="202.4" rx="5.2" ry="4.1" stroke="none"/>
<path d="M661.9,129.4 V146.1 M658.1,129.4 H665.7 M658.1,146.1 H665.7"/>
<ellipse cx="661.5" cy="136.9" rx="5.2" ry="4.1" stroke="none"/>
<path d="M715.9,51.5 V85.3 M712.1,51.5 H719.7 M712.1,85.3 H719.7"/>
<ellipse cx="715.5" cy="67.4" rx="5.2" ry="4.1" stroke="none"/>
</g>
<g stroke="#000" stroke-width="0.5">
<text x="394.3" y="24.8" font-size="29.5">(b)</text>
<text x="482" y="91.6" font-size="23" text-anchor="end">0.06</text>
<text x="482" y="173.6" font-size="23" text-anchor="end">0.04</text>
<text x="482" y="255.5" font-size="23" text-anchor="end">0.02</text>
<text x="482" y="337.8" font-size="23" text-anchor="end">0.00</text>
<text x="498.5" y="371.5" font-size="23.3" text-anchor="middle">0.0</text>
<text x="607" y="371.5" font-size="23.3" text-anchor="middle">0.5</text>
<text x="716" y="371.5" font-size="23.3" text-anchor="middle">1.0</text>
<text x="634" y="409" font-size="31" text-anchor="middle">[Fc], mM</text>
<g transform="translate(418,220) rotate(-90)" font-size="30">
<text x="0" y="0" font-style="italic" textLength="19.7" lengthAdjust="spacingAndGlyphs">k</text>
<text x="18" y="7" font-size="17" font-style="italic" textLength="38.6" lengthAdjust="spacingAndGlyphs">obs,</text>
<text x="62" y="0">s</text>
<text x="85.5" y="-13" font-size="17" textLength="18.1" lengthAdjust="spacingAndGlyphs">-1</text>
</g>
</g>
<g font-size="23" fill="#fb0a16" stroke="#fb0a16" stroke-width="0.5">
<text x="603.3" y="306.5" font-style="italic">k</text>
<text x="615.6" y="313.5" font-size="16.5">2</text>
<text x="631.3" y="306.5">= 6.3 M</text>
<text x="711.6" y="297.8" font-size="16" textLength="15.4" lengthAdjust="spacingAndGlyphs">−1</text>
<text x="732.7" y="306.5">s</text>
<text x="747.5" y="297.8" font-size="16" textLength="15.2" lengthAdjust="spacingAndGlyphs">−1</text>
</g>
</svg></body></html>
